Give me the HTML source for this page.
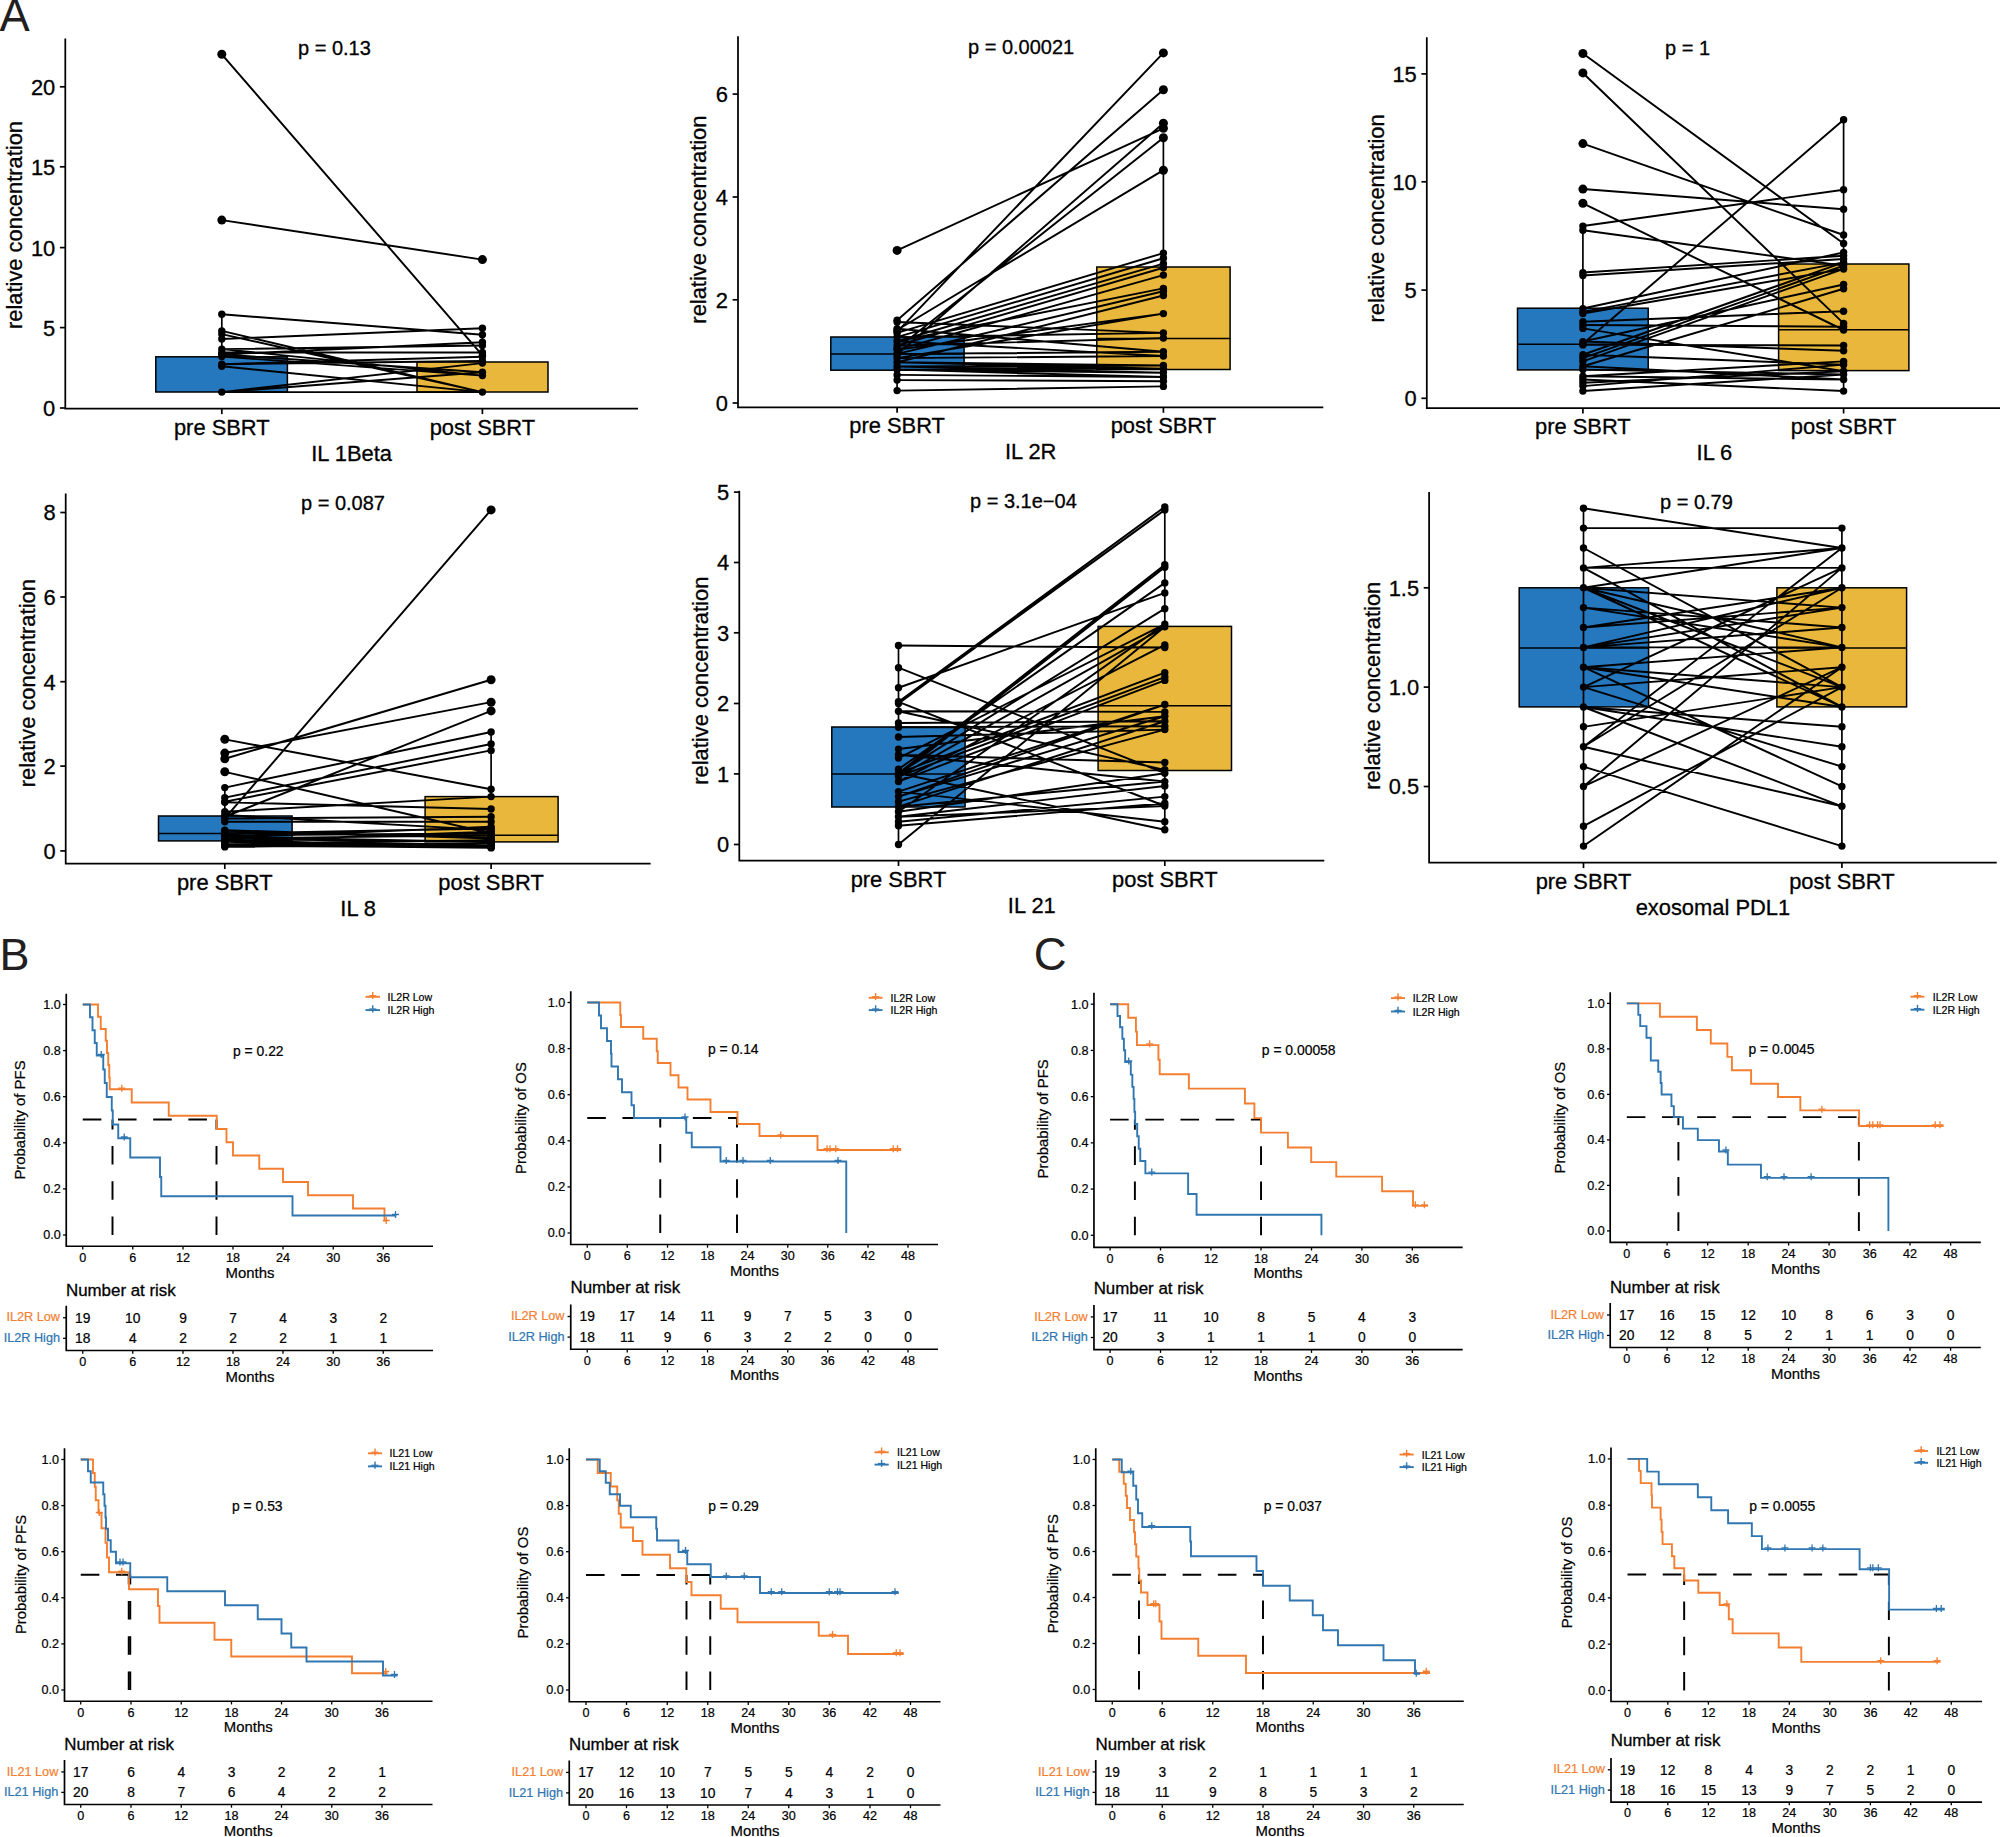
<!DOCTYPE html>
<html><head><meta charset="utf-8"><title>Figure</title>
<style>html,body{margin:0;padding:0;background:#fff}svg{display:block}text{font-family:'Liberation Sans', sans-serif}</style></head><body>
<svg width="2000" height="1837" viewBox="0 0 2000 1837">
<rect width="2000" height="1837" fill="#fff"/>
<rect x="155.8" y="356.8" width="131.6" height="35.2" fill="#2578BE" stroke="#000" stroke-width="1.5"/>
<rect x="417" y="362" width="131" height="30" fill="#E8B73B" stroke="#000" stroke-width="1.5"/>
<line x1="221.8" y1="314.3" x2="221.8" y2="356.8" stroke="#000" stroke-width="1.7"/>
<line x1="482.4" y1="328.3" x2="482.4" y2="362" stroke="#000" stroke-width="1.7"/>
<path d="M221.8 54.3L482.4 355.3M221.8 220.1L482.4 259.6M221.8 314.3L482.4 334.7M221.8 330.9L482.4 392.1M221.8 334.1L482.4 392.1M221.8 339L482.4 328.3M221.8 349.1L482.4 345.5M221.8 352.4L482.4 352.4M221.8 354.5L482.4 342.2M221.8 354.5L482.4 372.3M221.8 356.5L482.4 375.6M221.8 364.2L482.4 361M221.8 366.3L482.4 392.1M221.8 364.2L482.4 356.7M221.8 392.1L482.4 363.1M221.8 392.1L482.4 372.3M221.8 392.1L482.4 392.1M221.8 349.1L482.4 375.6" stroke="#000" stroke-width="1.95" fill="none"/>
<circle cx="221.8" cy="54.3" r="4.5"/>
<circle cx="221.8" cy="220.1" r="4.5"/>
<circle cx="221.8" cy="314.3" r="3.7"/>
<circle cx="221.8" cy="330.9" r="3.7"/>
<circle cx="221.8" cy="334.1" r="3.7"/>
<circle cx="221.8" cy="339" r="3.7"/>
<circle cx="221.8" cy="349.1" r="3.7"/>
<circle cx="221.8" cy="352.4" r="3.7"/>
<circle cx="221.8" cy="354.5" r="3.7"/>
<circle cx="221.8" cy="356.5" r="3.7"/>
<circle cx="221.8" cy="364.2" r="3.7"/>
<circle cx="221.8" cy="366.3" r="3.7"/>
<circle cx="221.8" cy="392.1" r="3.7"/>
<circle cx="482.4" cy="259.6" r="4.5"/>
<circle cx="482.4" cy="328.3" r="3.7"/>
<circle cx="482.4" cy="334.7" r="3.7"/>
<circle cx="482.4" cy="342.2" r="3.7"/>
<circle cx="482.4" cy="345.5" r="3.7"/>
<circle cx="482.4" cy="352.4" r="3.7"/>
<circle cx="482.4" cy="355.3" r="3.7"/>
<circle cx="482.4" cy="356.7" r="3.7"/>
<circle cx="482.4" cy="361" r="3.7"/>
<circle cx="482.4" cy="363.1" r="3.7"/>
<circle cx="482.4" cy="372.3" r="3.7"/>
<circle cx="482.4" cy="375.6" r="3.7"/>
<circle cx="482.4" cy="392.1" r="3.7"/>
<path d="M65.3 38.5V408.7H638" stroke="#000" stroke-width="1.75" fill="none"/>
<line x1="59.9" y1="408" x2="65.3" y2="408" stroke="#000" stroke-width="1.7"/>
<text x="55.3" y="415.9" font-size="21.9" text-anchor="end" fill="#000" stroke="#000" stroke-width="0.3">0</text>
<line x1="59.9" y1="327.6" x2="65.3" y2="327.6" stroke="#000" stroke-width="1.7"/>
<text x="55.3" y="335.5" font-size="21.9" text-anchor="end" fill="#000" stroke="#000" stroke-width="0.3">5</text>
<line x1="59.9" y1="247.6" x2="65.3" y2="247.6" stroke="#000" stroke-width="1.7"/>
<text x="55.3" y="255.5" font-size="21.9" text-anchor="end" fill="#000" stroke="#000" stroke-width="0.3">10</text>
<line x1="59.9" y1="166.8" x2="65.3" y2="166.8" stroke="#000" stroke-width="1.7"/>
<text x="55.3" y="174.7" font-size="21.9" text-anchor="end" fill="#000" stroke="#000" stroke-width="0.3">15</text>
<line x1="59.9" y1="86.8" x2="65.3" y2="86.8" stroke="#000" stroke-width="1.7"/>
<text x="55.3" y="94.7" font-size="21.9" text-anchor="end" fill="#000" stroke="#000" stroke-width="0.3">20</text>
<line x1="221.8" y1="408.7" x2="221.8" y2="414.1" stroke="#000" stroke-width="1.7"/>
<text x="221.8" y="434.7" font-size="21.9" text-anchor="middle" fill="#000" stroke="#000" stroke-width="0.3">pre SBRT</text>
<line x1="482.4" y1="408.7" x2="482.4" y2="414.1" stroke="#000" stroke-width="1.7"/>
<text x="482.4" y="434.7" font-size="21.9" text-anchor="middle" fill="#000" stroke="#000" stroke-width="0.3">post SBRT</text>
<text x="351.65" y="460.7" font-size="21.9" text-anchor="middle" fill="#000" stroke="#000" stroke-width="0.3">IL 1Beta</text>
<text x="21.8" y="225" font-size="21.9" text-anchor="middle" fill="#000" stroke="#000" stroke-width="0.3" transform="rotate(-90 21.8 225)">relative concentration</text>
<text x="298" y="54.5" font-size="20" text-anchor="start" fill="#000" stroke="#000" stroke-width="0.3">p = 0.13</text>
<rect x="830.8" y="337" width="133.3" height="33.2" fill="#2578BE" stroke="#000" stroke-width="1.5"/>
<line x1="830.8" y1="354.1" x2="964.1" y2="354.1" stroke="#000" stroke-width="1.5"/>
<rect x="1096.8" y="267" width="133.3" height="102.5" fill="#E8B73B" stroke="#000" stroke-width="1.5"/>
<line x1="1096.8" y1="338.4" x2="1230.1" y2="338.4" stroke="#000" stroke-width="1.5"/>
<line x1="897.1" y1="320.3" x2="897.1" y2="337" stroke="#000" stroke-width="1.7"/>
<line x1="897.1" y1="370.2" x2="897.1" y2="390.6" stroke="#000" stroke-width="1.7"/>
<line x1="1163.4" y1="137.7" x2="1163.4" y2="267" stroke="#000" stroke-width="1.7"/>
<line x1="1163.4" y1="369.5" x2="1163.4" y2="386.4" stroke="#000" stroke-width="1.7"/>
<path d="M897.1 250.4L1163.4 128.3M897.1 331.8L1163.4 52.9M897.1 320.3L1163.4 89.8M897.1 354.6L1163.4 123.3M897.1 348.6L1163.4 137.7M897.1 330L1163.4 170.2M897.1 332.9L1163.4 253.1M897.1 337.1L1163.4 258.3M897.1 341.3L1163.4 263.6M897.1 345.5L1163.4 267.8M897.1 349.7L1163.4 275.1M897.1 341.3L1163.4 288.4M897.1 353.9L1163.4 291.3M897.1 362.3L1163.4 295.5M897.1 349.7L1163.4 313.6M897.1 358.1L1163.4 313.6M897.1 337.1L1163.4 332.9M897.1 345.5L1163.4 338.1M897.1 328.7L1163.4 351.8M897.1 341.3L1163.4 356M897.1 353.9L1163.4 351.8M897.1 358.1L1163.4 356M897.1 362.3L1163.4 365.4M897.1 366.5L1163.4 368.6M897.1 366.5L1163.4 365.4M897.1 369.6L1163.4 368.6M897.1 369.6L1163.4 372.8M897.1 374.9L1163.4 377M897.1 380.1L1163.4 381.2M897.1 390.6L1163.4 386.4M897.1 366.5L1163.4 372.8M897.1 362.3L1163.4 368.6M897.1 369.6L1163.4 377M897.1 322L1163.4 332.9" stroke="#000" stroke-width="1.95" fill="none"/>
<circle cx="897.1" cy="250.4" r="4.5"/>
<circle cx="897.1" cy="320.3" r="3.7"/>
<circle cx="897.1" cy="322" r="3.7"/>
<circle cx="897.1" cy="328.7" r="3.7"/>
<circle cx="897.1" cy="330" r="3.7"/>
<circle cx="897.1" cy="331.8" r="3.7"/>
<circle cx="897.1" cy="332.9" r="3.7"/>
<circle cx="897.1" cy="337.1" r="3.7"/>
<circle cx="897.1" cy="341.3" r="3.7"/>
<circle cx="897.1" cy="345.5" r="3.7"/>
<circle cx="897.1" cy="348.6" r="3.7"/>
<circle cx="897.1" cy="349.7" r="3.7"/>
<circle cx="897.1" cy="353.9" r="3.7"/>
<circle cx="897.1" cy="354.6" r="3.7"/>
<circle cx="897.1" cy="358.1" r="3.7"/>
<circle cx="897.1" cy="362.3" r="3.7"/>
<circle cx="897.1" cy="366.5" r="3.7"/>
<circle cx="897.1" cy="369.6" r="3.7"/>
<circle cx="897.1" cy="374.9" r="3.7"/>
<circle cx="897.1" cy="380.1" r="3.7"/>
<circle cx="897.1" cy="390.6" r="3.7"/>
<circle cx="1163.4" cy="52.9" r="4.5"/>
<circle cx="1163.4" cy="89.8" r="4.5"/>
<circle cx="1163.4" cy="123.3" r="4.5"/>
<circle cx="1163.4" cy="128.3" r="4.5"/>
<circle cx="1163.4" cy="137.7" r="4.5"/>
<circle cx="1163.4" cy="170.2" r="4.5"/>
<circle cx="1163.4" cy="253.1" r="3.7"/>
<circle cx="1163.4" cy="258.3" r="3.7"/>
<circle cx="1163.4" cy="263.6" r="3.7"/>
<circle cx="1163.4" cy="267.8" r="3.7"/>
<circle cx="1163.4" cy="275.1" r="3.7"/>
<circle cx="1163.4" cy="288.4" r="3.7"/>
<circle cx="1163.4" cy="291.3" r="3.7"/>
<circle cx="1163.4" cy="295.5" r="3.7"/>
<circle cx="1163.4" cy="313.6" r="3.7"/>
<circle cx="1163.4" cy="332.9" r="3.7"/>
<circle cx="1163.4" cy="338.1" r="3.7"/>
<circle cx="1163.4" cy="351.8" r="3.7"/>
<circle cx="1163.4" cy="356" r="3.7"/>
<circle cx="1163.4" cy="365.4" r="3.7"/>
<circle cx="1163.4" cy="368.6" r="3.7"/>
<circle cx="1163.4" cy="372.8" r="3.7"/>
<circle cx="1163.4" cy="377" r="3.7"/>
<circle cx="1163.4" cy="381.2" r="3.7"/>
<circle cx="1163.4" cy="386.4" r="3.7"/>
<path d="M738 36.2V407.4H1323.3" stroke="#000" stroke-width="1.75" fill="none"/>
<line x1="732.6" y1="403" x2="738" y2="403" stroke="#000" stroke-width="1.7"/>
<text x="728" y="410.9" font-size="21.9" text-anchor="end" fill="#000" stroke="#000" stroke-width="0.3">0</text>
<line x1="732.6" y1="299.8" x2="738" y2="299.8" stroke="#000" stroke-width="1.7"/>
<text x="728" y="307.7" font-size="21.9" text-anchor="end" fill="#000" stroke="#000" stroke-width="0.3">2</text>
<line x1="732.6" y1="197" x2="738" y2="197" stroke="#000" stroke-width="1.7"/>
<text x="728" y="204.9" font-size="21.9" text-anchor="end" fill="#000" stroke="#000" stroke-width="0.3">4</text>
<line x1="732.6" y1="94.1" x2="738" y2="94.1" stroke="#000" stroke-width="1.7"/>
<text x="728" y="102" font-size="21.9" text-anchor="end" fill="#000" stroke="#000" stroke-width="0.3">6</text>
<line x1="897.1" y1="407.4" x2="897.1" y2="412.8" stroke="#000" stroke-width="1.7"/>
<text x="897.1" y="433.4" font-size="21.9" text-anchor="middle" fill="#000" stroke="#000" stroke-width="0.3">pre SBRT</text>
<line x1="1163.4" y1="407.4" x2="1163.4" y2="412.8" stroke="#000" stroke-width="1.7"/>
<text x="1163.4" y="433.4" font-size="21.9" text-anchor="middle" fill="#000" stroke="#000" stroke-width="0.3">post SBRT</text>
<text x="1030.65" y="459.4" font-size="21.9" text-anchor="middle" fill="#000" stroke="#000" stroke-width="0.3">IL 2R</text>
<text x="705.8" y="219.6" font-size="21.9" text-anchor="middle" fill="#000" stroke="#000" stroke-width="0.3" transform="rotate(-90 705.8 219.6)">relative concentration</text>
<text x="968" y="53.5" font-size="20" text-anchor="start" fill="#000" stroke="#000" stroke-width="0.3">p = 0.00021</text>
<rect x="1517.5" y="308.2" width="130.7" height="61.7" fill="#2578BE" stroke="#000" stroke-width="1.5"/>
<line x1="1517.5" y1="344.2" x2="1648.2" y2="344.2" stroke="#000" stroke-width="1.5"/>
<rect x="1778.6" y="264" width="130.3" height="106.6" fill="#E8B73B" stroke="#000" stroke-width="1.5"/>
<line x1="1778.6" y1="329.7" x2="1908.9" y2="329.7" stroke="#000" stroke-width="1.5"/>
<line x1="1582.9" y1="226.05" x2="1582.9" y2="308.2" stroke="#000" stroke-width="1.7"/>
<line x1="1582.9" y1="369.9" x2="1582.9" y2="391.05" stroke="#000" stroke-width="1.7"/>
<line x1="1843.6" y1="119.79" x2="1843.6" y2="264" stroke="#000" stroke-width="1.7"/>
<line x1="1843.6" y1="370.6" x2="1843.6" y2="391.05" stroke="#000" stroke-width="1.7"/>
<path d="M1582.9 53.46L1843.6 243.54M1582.9 72.93L1843.6 323.4M1582.9 143.55L1843.6 234.96M1582.9 189.09L1843.6 209.22M1582.9 203.28L1843.6 330M1582.9 226.05L1843.6 189.75M1582.9 230.34L1843.6 265.65M1582.9 272.58L1843.6 255.75M1582.9 275.55L1843.6 259.05M1582.9 308.55L1843.6 252.45M1582.9 311.85L1843.6 262.35M1582.9 313.5L1843.6 268.95M1582.9 321.75L1843.6 311.19M1582.9 325.05L1843.6 326.7M1582.9 328.35L1843.6 371.25M1582.9 341.55L1843.6 284.46M1582.9 344.85L1843.6 345.51M1582.9 343.86L1843.6 119.79M1582.9 358.05L1843.6 265.65M1582.9 361.35L1843.6 268.95M1582.9 354.75L1843.6 364.65M1582.9 366.3L1843.6 288.75M1582.9 369.6L1843.6 374.55M1582.9 376.2L1843.6 361.35M1582.9 379.5L1843.6 391.05M1582.9 382.8L1843.6 371.25M1582.9 386.1L1843.6 364.65M1582.9 391.05L1843.6 374.55M1582.9 366.3L1843.6 379.5M1582.9 341.55L1843.6 350.79M1582.9 376.2L1843.6 379.5M1582.9 354.75L1843.6 262.35" stroke="#000" stroke-width="1.95" fill="none"/>
<circle cx="1582.9" cy="53.5" r="4.5"/>
<circle cx="1582.9" cy="72.9" r="4.5"/>
<circle cx="1582.9" cy="143.6" r="4.5"/>
<circle cx="1582.9" cy="189.1" r="4.5"/>
<circle cx="1582.9" cy="203.3" r="4.5"/>
<circle cx="1582.9" cy="226.1" r="3.7"/>
<circle cx="1582.9" cy="230.3" r="3.7"/>
<circle cx="1582.9" cy="272.6" r="3.7"/>
<circle cx="1582.9" cy="275.6" r="3.7"/>
<circle cx="1582.9" cy="308.6" r="3.7"/>
<circle cx="1582.9" cy="311.9" r="3.7"/>
<circle cx="1582.9" cy="313.5" r="3.7"/>
<circle cx="1582.9" cy="321.8" r="3.7"/>
<circle cx="1582.9" cy="325.1" r="3.7"/>
<circle cx="1582.9" cy="328.4" r="3.7"/>
<circle cx="1582.9" cy="341.6" r="3.7"/>
<circle cx="1582.9" cy="343.9" r="3.7"/>
<circle cx="1582.9" cy="344.9" r="3.7"/>
<circle cx="1582.9" cy="354.8" r="3.7"/>
<circle cx="1582.9" cy="358.1" r="3.7"/>
<circle cx="1582.9" cy="361.4" r="3.7"/>
<circle cx="1582.9" cy="366.3" r="3.7"/>
<circle cx="1582.9" cy="369.6" r="3.7"/>
<circle cx="1582.9" cy="376.2" r="3.7"/>
<circle cx="1582.9" cy="379.5" r="3.7"/>
<circle cx="1582.9" cy="382.8" r="3.7"/>
<circle cx="1582.9" cy="386.1" r="3.7"/>
<circle cx="1582.9" cy="391.1" r="3.7"/>
<circle cx="1843.6" cy="119.8" r="3.7"/>
<circle cx="1843.6" cy="189.8" r="3.7"/>
<circle cx="1843.6" cy="209.2" r="3.7"/>
<circle cx="1843.6" cy="235" r="3.7"/>
<circle cx="1843.6" cy="243.5" r="3.7"/>
<circle cx="1843.6" cy="252.5" r="3.7"/>
<circle cx="1843.6" cy="255.8" r="3.7"/>
<circle cx="1843.6" cy="259.1" r="3.7"/>
<circle cx="1843.6" cy="262.4" r="3.7"/>
<circle cx="1843.6" cy="265.7" r="3.7"/>
<circle cx="1843.6" cy="269" r="3.7"/>
<circle cx="1843.6" cy="284.5" r="3.7"/>
<circle cx="1843.6" cy="288.8" r="3.7"/>
<circle cx="1843.6" cy="311.2" r="3.7"/>
<circle cx="1843.6" cy="323.4" r="3.7"/>
<circle cx="1843.6" cy="326.7" r="3.7"/>
<circle cx="1843.6" cy="330" r="3.7"/>
<circle cx="1843.6" cy="345.5" r="3.7"/>
<circle cx="1843.6" cy="350.8" r="3.7"/>
<circle cx="1843.6" cy="361.4" r="3.7"/>
<circle cx="1843.6" cy="364.7" r="3.7"/>
<circle cx="1843.6" cy="371.3" r="3.7"/>
<circle cx="1843.6" cy="374.6" r="3.7"/>
<circle cx="1843.6" cy="379.5" r="3.7"/>
<circle cx="1843.6" cy="391.1" r="3.7"/>
<path d="M1426.8 37.3V408.1H2002" stroke="#000" stroke-width="1.75" fill="none"/>
<line x1="1421.4" y1="398.3" x2="1426.8" y2="398.3" stroke="#000" stroke-width="1.7"/>
<text x="1416.8" y="406.2" font-size="21.9" text-anchor="end" fill="#000" stroke="#000" stroke-width="0.3">0</text>
<line x1="1421.4" y1="290.1" x2="1426.8" y2="290.1" stroke="#000" stroke-width="1.7"/>
<text x="1416.8" y="298" font-size="21.9" text-anchor="end" fill="#000" stroke="#000" stroke-width="0.3">5</text>
<line x1="1421.4" y1="181.8" x2="1426.8" y2="181.8" stroke="#000" stroke-width="1.7"/>
<text x="1416.8" y="189.7" font-size="21.9" text-anchor="end" fill="#000" stroke="#000" stroke-width="0.3">10</text>
<line x1="1421.4" y1="73.9" x2="1426.8" y2="73.9" stroke="#000" stroke-width="1.7"/>
<text x="1416.8" y="81.8" font-size="21.9" text-anchor="end" fill="#000" stroke="#000" stroke-width="0.3">15</text>
<line x1="1582.9" y1="408.1" x2="1582.9" y2="413.5" stroke="#000" stroke-width="1.7"/>
<text x="1582.9" y="434.1" font-size="21.9" text-anchor="middle" fill="#000" stroke="#000" stroke-width="0.3">pre SBRT</text>
<line x1="1843.6" y1="408.1" x2="1843.6" y2="413.5" stroke="#000" stroke-width="1.7"/>
<text x="1843.6" y="434.1" font-size="21.9" text-anchor="middle" fill="#000" stroke="#000" stroke-width="0.3">post SBRT</text>
<text x="1714.4" y="460.1" font-size="21.9" text-anchor="middle" fill="#000" stroke="#000" stroke-width="0.3">IL 6</text>
<text x="1383.6" y="218.4" font-size="21.9" text-anchor="middle" fill="#000" stroke="#000" stroke-width="0.3" transform="rotate(-90 1383.6 218.4)">relative concentration</text>
<text x="1665" y="54.5" font-size="20" text-anchor="start" fill="#000" stroke="#000" stroke-width="0.3">p = 1</text>
<rect x="158.5" y="816" width="133.6" height="24.9" fill="#2578BE" stroke="#000" stroke-width="1.5"/>
<line x1="158.5" y1="833.5" x2="292.1" y2="833.5" stroke="#000" stroke-width="1.5"/>
<rect x="425.1" y="796.6" width="133" height="45.3" fill="#E8B73B" stroke="#000" stroke-width="1.5"/>
<line x1="425.1" y1="835.2" x2="558.1" y2="835.2" stroke="#000" stroke-width="1.5"/>
<line x1="224.8" y1="787.59" x2="224.8" y2="816" stroke="#000" stroke-width="1.7"/>
<line x1="491.1" y1="731.98" x2="491.1" y2="796.6" stroke="#000" stroke-width="1.7"/>
<path d="M224.8 818.41L491.1 509.87M224.8 739.35L491.1 789.26M224.8 753.08L491.1 702.16M224.8 758.78L491.1 679.72M224.8 771.84L491.1 833.48M224.8 787.59L491.1 731.98M224.8 797.64L491.1 744.04M224.8 801.66L491.1 750.4M224.8 816.73L491.1 710.87M224.8 802.33L491.1 809.03M224.8 811.71L491.1 796.63M224.8 815.06L491.1 830.13M224.8 818.41L491.1 816.73M224.8 821.76L491.1 821.76M224.8 830.13L491.1 838.51M224.8 833.48L491.1 828.46M224.8 836.83L491.1 841.86M224.8 838.51L491.1 835.16M224.8 841.86L491.1 845.21M224.8 843.53L491.1 840.18M224.8 845.21L491.1 847.89M224.8 846.88L491.1 843.53M224.8 840.18L491.1 846.88M224.8 835.16L491.1 833.48M224.8 831.81L491.1 836.83M224.8 837.84L491.1 826.78M224.8 841.19L491.1 831.81M224.8 844.54L491.1 845.88M224.8 845.88L491.1 847.22M224.8 842.53L491.1 844.54M224.8 839.18L491.1 841.19" stroke="#000" stroke-width="1.95" fill="none"/>
<circle cx="224.8" cy="739.3" r="4.5"/>
<circle cx="224.8" cy="753.1" r="4.5"/>
<circle cx="224.8" cy="758.8" r="4.5"/>
<circle cx="224.8" cy="771.8" r="4.5"/>
<circle cx="224.8" cy="787.6" r="3.7"/>
<circle cx="224.8" cy="797.6" r="3.7"/>
<circle cx="224.8" cy="801.7" r="3.7"/>
<circle cx="224.8" cy="802.3" r="3.7"/>
<circle cx="224.8" cy="811.7" r="3.7"/>
<circle cx="224.8" cy="815.1" r="3.7"/>
<circle cx="224.8" cy="816.7" r="3.7"/>
<circle cx="224.8" cy="818.4" r="3.7"/>
<circle cx="224.8" cy="821.8" r="3.7"/>
<circle cx="224.8" cy="830.1" r="3.7"/>
<circle cx="224.8" cy="831.8" r="3.7"/>
<circle cx="224.8" cy="833.5" r="3.7"/>
<circle cx="224.8" cy="835.2" r="3.7"/>
<circle cx="224.8" cy="836.8" r="3.7"/>
<circle cx="224.8" cy="837.8" r="3.7"/>
<circle cx="224.8" cy="838.5" r="3.7"/>
<circle cx="224.8" cy="839.2" r="3.7"/>
<circle cx="224.8" cy="840.2" r="3.7"/>
<circle cx="224.8" cy="841.2" r="3.7"/>
<circle cx="224.8" cy="841.9" r="3.7"/>
<circle cx="224.8" cy="842.5" r="3.7"/>
<circle cx="224.8" cy="843.5" r="3.7"/>
<circle cx="224.8" cy="844.5" r="3.7"/>
<circle cx="224.8" cy="845.2" r="3.7"/>
<circle cx="224.8" cy="845.9" r="3.7"/>
<circle cx="224.8" cy="846.9" r="3.7"/>
<circle cx="491.1" cy="509.9" r="4.5"/>
<circle cx="491.1" cy="679.7" r="4.5"/>
<circle cx="491.1" cy="702.2" r="4.5"/>
<circle cx="491.1" cy="710.9" r="4.5"/>
<circle cx="491.1" cy="732" r="3.7"/>
<circle cx="491.1" cy="744" r="3.7"/>
<circle cx="491.1" cy="750.4" r="3.7"/>
<circle cx="491.1" cy="789.3" r="3.7"/>
<circle cx="491.1" cy="796.6" r="3.7"/>
<circle cx="491.1" cy="809" r="3.7"/>
<circle cx="491.1" cy="816.7" r="3.7"/>
<circle cx="491.1" cy="821.8" r="3.7"/>
<circle cx="491.1" cy="826.8" r="3.7"/>
<circle cx="491.1" cy="828.5" r="3.7"/>
<circle cx="491.1" cy="830.1" r="3.7"/>
<circle cx="491.1" cy="831.8" r="3.7"/>
<circle cx="491.1" cy="833.5" r="3.7"/>
<circle cx="491.1" cy="835.2" r="3.7"/>
<circle cx="491.1" cy="836.8" r="3.7"/>
<circle cx="491.1" cy="838.5" r="3.7"/>
<circle cx="491.1" cy="840.2" r="3.7"/>
<circle cx="491.1" cy="841.2" r="3.7"/>
<circle cx="491.1" cy="841.9" r="3.7"/>
<circle cx="491.1" cy="843.5" r="3.7"/>
<circle cx="491.1" cy="844.5" r="3.7"/>
<circle cx="491.1" cy="845.2" r="3.7"/>
<circle cx="491.1" cy="845.9" r="3.7"/>
<circle cx="491.1" cy="846.9" r="3.7"/>
<circle cx="491.1" cy="847.2" r="3.7"/>
<circle cx="491.1" cy="847.9" r="3.7"/>
<path d="M65.7 493.5V863.6H650.6" stroke="#000" stroke-width="1.75" fill="none"/>
<line x1="60.3" y1="850.9" x2="65.7" y2="850.9" stroke="#000" stroke-width="1.7"/>
<text x="55.7" y="858.8" font-size="21.9" text-anchor="end" fill="#000" stroke="#000" stroke-width="0.3">0</text>
<line x1="60.3" y1="766.1" x2="65.7" y2="766.1" stroke="#000" stroke-width="1.7"/>
<text x="55.7" y="774" font-size="21.9" text-anchor="end" fill="#000" stroke="#000" stroke-width="0.3">2</text>
<line x1="60.3" y1="681.7" x2="65.7" y2="681.7" stroke="#000" stroke-width="1.7"/>
<text x="55.7" y="689.6" font-size="21.9" text-anchor="end" fill="#000" stroke="#000" stroke-width="0.3">4</text>
<line x1="60.3" y1="597" x2="65.7" y2="597" stroke="#000" stroke-width="1.7"/>
<text x="55.7" y="604.9" font-size="21.9" text-anchor="end" fill="#000" stroke="#000" stroke-width="0.3">6</text>
<line x1="60.3" y1="512.5" x2="65.7" y2="512.5" stroke="#000" stroke-width="1.7"/>
<text x="55.7" y="520.4" font-size="21.9" text-anchor="end" fill="#000" stroke="#000" stroke-width="0.3">8</text>
<line x1="224.8" y1="863.6" x2="224.8" y2="869" stroke="#000" stroke-width="1.7"/>
<text x="224.8" y="889.6" font-size="21.9" text-anchor="middle" fill="#000" stroke="#000" stroke-width="0.3">pre SBRT</text>
<line x1="491.1" y1="863.6" x2="491.1" y2="869" stroke="#000" stroke-width="1.7"/>
<text x="491.1" y="889.6" font-size="21.9" text-anchor="middle" fill="#000" stroke="#000" stroke-width="0.3">post SBRT</text>
<text x="358.15" y="915.6" font-size="21.9" text-anchor="middle" fill="#000" stroke="#000" stroke-width="0.3">IL 8</text>
<text x="34.9" y="683.2" font-size="21.9" text-anchor="middle" fill="#000" stroke="#000" stroke-width="0.3" transform="rotate(-90 34.9 683.2)">relative concentration</text>
<text x="301" y="510" font-size="20" text-anchor="start" fill="#000" stroke="#000" stroke-width="0.3">p = 0.087</text>
<rect x="831.8" y="727" width="133.3" height="80" fill="#2578BE" stroke="#000" stroke-width="1.5"/>
<line x1="831.8" y1="773.9" x2="965.1" y2="773.9" stroke="#000" stroke-width="1.5"/>
<rect x="1098.1" y="626.4" width="133.4" height="144.1" fill="#E8B73B" stroke="#000" stroke-width="1.5"/>
<line x1="1098.1" y1="705.8" x2="1231.5" y2="705.8" stroke="#000" stroke-width="1.5"/>
<line x1="898.5" y1="645.54" x2="898.5" y2="727" stroke="#000" stroke-width="1.7"/>
<line x1="898.5" y1="807" x2="898.5" y2="844.54" stroke="#000" stroke-width="1.7"/>
<line x1="1164.8" y1="506.85" x2="1164.8" y2="626.4" stroke="#000" stroke-width="1.7"/>
<line x1="1164.8" y1="770.5" x2="1164.8" y2="829.8" stroke="#000" stroke-width="1.7"/>
<path d="M898.5 645.54L1164.8 647.55M898.5 667.65L1164.8 773.18M898.5 687.76L1164.8 592.95M898.5 701.83L1164.8 506.85M898.5 703.5L1164.8 509.87M898.5 711.21L1164.8 711.88M898.5 722.93L1164.8 721.26M898.5 727.29L1164.8 726.28M898.5 701.83L1164.8 806.01M898.5 711.21L1164.8 769.83M898.5 737L1164.8 729.63M898.5 749.06L1164.8 716.23M898.5 754.76L1164.8 762.46M898.5 758.11L1164.8 624.1M898.5 769.16L1164.8 582.9M898.5 773.18L1164.8 608.69M898.5 776.53L1164.8 626.78M898.5 781.56L1164.8 644.87M898.5 773.18L1164.8 672.68M898.5 776.53L1164.8 677.04M898.5 781.56L1164.8 680.39M898.5 791.61L1164.8 704.51M898.5 796.63L1164.8 716.23M898.5 801.66L1164.8 729.63M898.5 791.61L1164.8 821.76M898.5 773.18L1164.8 829.8M898.5 806.68L1164.8 781.56M898.5 811.71L1164.8 624.1M898.5 816.73L1164.8 785.91M898.5 821.76L1164.8 796.63M898.5 825.78L1164.8 803.33M898.5 844.54L1164.8 626.78M898.5 773.18L1164.8 564.81M898.5 775.19L1164.8 567.15M898.5 806.68L1164.8 721.26M898.5 816.73L1164.8 806.01M898.5 754.76L1164.8 781.56M898.5 796.63L1164.8 704.51M898.5 811.71L1164.8 773.18" stroke="#000" stroke-width="1.95" fill="none"/>
<circle cx="898.5" cy="645.5" r="3.7"/>
<circle cx="898.5" cy="667.7" r="3.7"/>
<circle cx="898.5" cy="687.8" r="3.7"/>
<circle cx="898.5" cy="701.8" r="3.7"/>
<circle cx="898.5" cy="703.5" r="3.7"/>
<circle cx="898.5" cy="711.2" r="3.7"/>
<circle cx="898.5" cy="722.9" r="3.7"/>
<circle cx="898.5" cy="727.3" r="3.7"/>
<circle cx="898.5" cy="737" r="3.7"/>
<circle cx="898.5" cy="749.1" r="3.7"/>
<circle cx="898.5" cy="754.8" r="3.7"/>
<circle cx="898.5" cy="758.1" r="3.7"/>
<circle cx="898.5" cy="769.2" r="3.7"/>
<circle cx="898.5" cy="773.2" r="3.7"/>
<circle cx="898.5" cy="775.2" r="3.7"/>
<circle cx="898.5" cy="776.5" r="3.7"/>
<circle cx="898.5" cy="781.6" r="3.7"/>
<circle cx="898.5" cy="791.6" r="3.7"/>
<circle cx="898.5" cy="796.6" r="3.7"/>
<circle cx="898.5" cy="801.7" r="3.7"/>
<circle cx="898.5" cy="806.7" r="3.7"/>
<circle cx="898.5" cy="811.7" r="3.7"/>
<circle cx="898.5" cy="816.7" r="3.7"/>
<circle cx="898.5" cy="821.8" r="3.7"/>
<circle cx="898.5" cy="825.8" r="3.7"/>
<circle cx="898.5" cy="844.5" r="3.7"/>
<circle cx="1164.8" cy="506.9" r="3.7"/>
<circle cx="1164.8" cy="509.9" r="3.7"/>
<circle cx="1164.8" cy="564.8" r="3.7"/>
<circle cx="1164.8" cy="567.2" r="3.7"/>
<circle cx="1164.8" cy="582.9" r="3.7"/>
<circle cx="1164.8" cy="592.9" r="3.7"/>
<circle cx="1164.8" cy="608.7" r="3.7"/>
<circle cx="1164.8" cy="624.1" r="3.7"/>
<circle cx="1164.8" cy="626.8" r="3.7"/>
<circle cx="1164.8" cy="644.9" r="3.7"/>
<circle cx="1164.8" cy="647.6" r="3.7"/>
<circle cx="1164.8" cy="672.7" r="3.7"/>
<circle cx="1164.8" cy="677" r="3.7"/>
<circle cx="1164.8" cy="680.4" r="3.7"/>
<circle cx="1164.8" cy="704.5" r="3.7"/>
<circle cx="1164.8" cy="711.9" r="3.7"/>
<circle cx="1164.8" cy="716.2" r="3.7"/>
<circle cx="1164.8" cy="721.3" r="3.7"/>
<circle cx="1164.8" cy="726.3" r="3.7"/>
<circle cx="1164.8" cy="729.6" r="3.7"/>
<circle cx="1164.8" cy="762.5" r="3.7"/>
<circle cx="1164.8" cy="769.8" r="3.7"/>
<circle cx="1164.8" cy="773.2" r="3.7"/>
<circle cx="1164.8" cy="781.6" r="3.7"/>
<circle cx="1164.8" cy="785.9" r="3.7"/>
<circle cx="1164.8" cy="796.6" r="3.7"/>
<circle cx="1164.8" cy="803.3" r="3.7"/>
<circle cx="1164.8" cy="806" r="3.7"/>
<circle cx="1164.8" cy="821.8" r="3.7"/>
<circle cx="1164.8" cy="829.8" r="3.7"/>
<path d="M739.3 490.8V860.6H1324.3" stroke="#000" stroke-width="1.75" fill="none"/>
<line x1="733.9" y1="844.5" x2="739.3" y2="844.5" stroke="#000" stroke-width="1.7"/>
<text x="729.3" y="852.4" font-size="21.9" text-anchor="end" fill="#000" stroke="#000" stroke-width="0.3">0</text>
<line x1="733.9" y1="773.9" x2="739.3" y2="773.9" stroke="#000" stroke-width="1.7"/>
<text x="729.3" y="781.8" font-size="21.9" text-anchor="end" fill="#000" stroke="#000" stroke-width="0.3">1</text>
<line x1="733.9" y1="703.5" x2="739.3" y2="703.5" stroke="#000" stroke-width="1.7"/>
<text x="729.3" y="711.4" font-size="21.9" text-anchor="end" fill="#000" stroke="#000" stroke-width="0.3">2</text>
<line x1="733.9" y1="632.8" x2="739.3" y2="632.8" stroke="#000" stroke-width="1.7"/>
<text x="729.3" y="640.7" font-size="21.9" text-anchor="end" fill="#000" stroke="#000" stroke-width="0.3">3</text>
<line x1="733.9" y1="562.5" x2="739.3" y2="562.5" stroke="#000" stroke-width="1.7"/>
<text x="729.3" y="570.4" font-size="21.9" text-anchor="end" fill="#000" stroke="#000" stroke-width="0.3">4</text>
<line x1="733.9" y1="492.1" x2="739.3" y2="492.1" stroke="#000" stroke-width="1.7"/>
<text x="729.3" y="500" font-size="21.9" text-anchor="end" fill="#000" stroke="#000" stroke-width="0.3">5</text>
<line x1="898.5" y1="860.6" x2="898.5" y2="866" stroke="#000" stroke-width="1.7"/>
<text x="898.5" y="886.6" font-size="21.9" text-anchor="middle" fill="#000" stroke="#000" stroke-width="0.3">pre SBRT</text>
<line x1="1164.8" y1="860.6" x2="1164.8" y2="866" stroke="#000" stroke-width="1.7"/>
<text x="1164.8" y="886.6" font-size="21.9" text-anchor="middle" fill="#000" stroke="#000" stroke-width="0.3">post SBRT</text>
<text x="1031.8" y="912.6" font-size="21.9" text-anchor="middle" fill="#000" stroke="#000" stroke-width="0.3">IL 21</text>
<text x="707.6" y="680.7" font-size="21.9" text-anchor="middle" fill="#000" stroke="#000" stroke-width="0.3" transform="rotate(-90 707.6 680.7)">relative concentration</text>
<text x="970" y="508" font-size="20" text-anchor="start" fill="#000" stroke="#000" stroke-width="0.3">p = 3.1e−04</text>
<rect x="1519.2" y="587.8" width="129.4" height="119.1" fill="#2578BE" stroke="#000" stroke-width="1.5"/>
<line x1="1519.2" y1="647.9" x2="1648.6" y2="647.9" stroke="#000" stroke-width="1.5"/>
<rect x="1776.9" y="587.8" width="129.7" height="119.1" fill="#E8B73B" stroke="#000" stroke-width="1.5"/>
<line x1="1776.9" y1="647.9" x2="1906.6" y2="647.9" stroke="#000" stroke-width="1.5"/>
<line x1="1583.5" y1="508.27" x2="1583.5" y2="846.06" stroke="#000" stroke-width="1.7"/>
<line x1="1841.9" y1="528.14" x2="1841.9" y2="846.06" stroke="#000" stroke-width="1.7"/>
<path d="M1583.5 508.27L1841.9 548.01M1583.5 528.14L1841.9 528.14M1583.5 548.01L1841.9 687.1M1583.5 567.88L1841.9 567.88M1583.5 567.88L1841.9 548.01M1583.5 567.88L1841.9 706.97M1583.5 587.75L1841.9 548.01M1583.5 587.75L1841.9 607.62M1583.5 587.75L1841.9 647.36M1583.5 587.75L1841.9 706.97M1583.5 587.75L1841.9 687.1M1583.5 607.62L1841.9 647.36M1583.5 607.62L1841.9 627.49M1583.5 627.49L1841.9 587.75M1583.5 627.49L1841.9 607.62M1583.5 647.36L1841.9 607.62M1583.5 647.36L1841.9 647.36M1583.5 647.36L1841.9 587.75M1583.5 647.36L1841.9 627.49M1583.5 667.23L1841.9 687.1M1583.5 667.23L1841.9 706.97M1583.5 667.23L1841.9 786.45M1583.5 667.23L1841.9 647.36M1583.5 687.1L1841.9 567.88M1583.5 687.1L1841.9 667.23M1583.5 687.1L1841.9 766.58M1583.5 706.97L1841.9 726.84M1583.5 706.97L1841.9 806.32M1583.5 706.97L1841.9 746.71M1583.5 726.84L1841.9 687.1M1583.5 746.71L1841.9 548.01M1583.5 746.71L1841.9 806.32M1583.5 746.71L1841.9 587.75M1583.5 766.58L1841.9 846.06M1583.5 786.45L1841.9 567.88M1583.5 786.45L1841.9 667.23M1583.5 826.19L1841.9 687.1M1583.5 846.06L1841.9 667.23" stroke="#000" stroke-width="1.95" fill="none"/>
<circle cx="1583.5" cy="508.3" r="3.7"/>
<circle cx="1583.5" cy="528.1" r="3.7"/>
<circle cx="1583.5" cy="548" r="3.7"/>
<circle cx="1583.5" cy="567.9" r="3.7"/>
<circle cx="1583.5" cy="587.8" r="3.7"/>
<circle cx="1583.5" cy="607.6" r="3.7"/>
<circle cx="1583.5" cy="627.5" r="3.7"/>
<circle cx="1583.5" cy="647.4" r="3.7"/>
<circle cx="1583.5" cy="667.2" r="3.7"/>
<circle cx="1583.5" cy="687.1" r="3.7"/>
<circle cx="1583.5" cy="707" r="3.7"/>
<circle cx="1583.5" cy="726.8" r="3.7"/>
<circle cx="1583.5" cy="746.7" r="3.7"/>
<circle cx="1583.5" cy="766.6" r="3.7"/>
<circle cx="1583.5" cy="786.5" r="3.7"/>
<circle cx="1583.5" cy="826.2" r="3.7"/>
<circle cx="1583.5" cy="846.1" r="3.7"/>
<circle cx="1841.9" cy="528.1" r="3.7"/>
<circle cx="1841.9" cy="548" r="3.7"/>
<circle cx="1841.9" cy="567.9" r="3.7"/>
<circle cx="1841.9" cy="587.8" r="3.7"/>
<circle cx="1841.9" cy="607.6" r="3.7"/>
<circle cx="1841.9" cy="627.5" r="3.7"/>
<circle cx="1841.9" cy="647.4" r="3.7"/>
<circle cx="1841.9" cy="667.2" r="3.7"/>
<circle cx="1841.9" cy="687.1" r="3.7"/>
<circle cx="1841.9" cy="707" r="3.7"/>
<circle cx="1841.9" cy="726.8" r="3.7"/>
<circle cx="1841.9" cy="746.7" r="3.7"/>
<circle cx="1841.9" cy="766.6" r="3.7"/>
<circle cx="1841.9" cy="786.5" r="3.7"/>
<circle cx="1841.9" cy="806.3" r="3.7"/>
<circle cx="1841.9" cy="846.1" r="3.7"/>
<path d="M1429.1 492.1V862.7H1996.7" stroke="#000" stroke-width="1.75" fill="none"/>
<line x1="1423.7" y1="786.5" x2="1429.1" y2="786.5" stroke="#000" stroke-width="1.7"/>
<text x="1419.1" y="794.4" font-size="21.9" text-anchor="end" fill="#000" stroke="#000" stroke-width="0.3">0.5</text>
<line x1="1423.7" y1="687.1" x2="1429.1" y2="687.1" stroke="#000" stroke-width="1.7"/>
<text x="1419.1" y="695" font-size="21.9" text-anchor="end" fill="#000" stroke="#000" stroke-width="0.3">1.0</text>
<line x1="1423.7" y1="587.8" x2="1429.1" y2="587.8" stroke="#000" stroke-width="1.7"/>
<text x="1419.1" y="595.7" font-size="21.9" text-anchor="end" fill="#000" stroke="#000" stroke-width="0.3">1.5</text>
<line x1="1583.5" y1="862.7" x2="1583.5" y2="868.1" stroke="#000" stroke-width="1.7"/>
<text x="1583.5" y="888.7" font-size="21.9" text-anchor="middle" fill="#000" stroke="#000" stroke-width="0.3">pre SBRT</text>
<line x1="1841.9" y1="862.7" x2="1841.9" y2="868.1" stroke="#000" stroke-width="1.7"/>
<text x="1841.9" y="888.7" font-size="21.9" text-anchor="middle" fill="#000" stroke="#000" stroke-width="0.3">post SBRT</text>
<text x="1712.9" y="914.7" font-size="21.9" text-anchor="middle" fill="#000" stroke="#000" stroke-width="0.3">exosomal PDL1</text>
<text x="1380" y="685.8" font-size="21.9" text-anchor="middle" fill="#000" stroke="#000" stroke-width="0.3" transform="rotate(-90 1380 685.8)">relative concentration</text>
<text x="1660" y="508.5" font-size="20" text-anchor="start" fill="#000" stroke="#000" stroke-width="0.3">p = 0.79</text>
<g stroke="#000" stroke-width="1.95" stroke-dasharray="18.6 16.6" fill="none">
<path d="M82.75 1119.5H216.75"/>
<path d="M112.5 1235V1119.5"/>
<path d="M216.5 1235V1119.5"/>
</g>
<path d="M82.75 1004.5L98 1004.5L98 1016.75L100.75 1016.75L100.75 1029L105.75 1029L105.75 1040.75L107 1040.75L107 1053L108.25 1053L108.25 1065L109.25 1065L109.25 1077.5L109.75 1077.5L109.75 1089.25L131.75 1089.25L131.75 1102.5L168.75 1102.5L168.75 1115.75L216.75 1115.75L216.75 1129L226.5 1129L226.5 1142.25L233 1142.25L233 1155.5L259.25 1155.5L259.25 1168.75L283 1168.75L283 1182L308 1182L308 1195.25L353 1195.25L353 1208.5L384.5 1208.5L384.5 1220.5L387 1220.5" stroke="#F47F31" stroke-width="1.9" fill="none" stroke-linejoin="miter"/>
<path d="M118.25 1088.25H125.25M121.75 1084.75V1091.75M382.75 1220.5H389.75M386.25 1217V1224" stroke="#F47F31" stroke-width="1.3" fill="none"/>
<path d="M82.75 1004.5L90 1004.5L90 1017.25L92.5 1017.25L92.5 1030.25L94.75 1030.25L94.75 1043L96.75 1043L96.75 1055.5L103.25 1055.5L103.25 1069.5L104.75 1069.5L104.75 1083L106.75 1083L106.75 1097L111.75 1097L111.75 1110.5L112.75 1110.5L112.75 1124.5L118.25 1124.5L118.25 1138.25L130.25 1138.25L130.25 1157.5L160 1157.5L160 1177L161.25 1177L161.25 1196.25L292.5 1196.25L292.5 1215.5L396.25 1215.5" stroke="#3076B1" stroke-width="1.9" fill="none" stroke-linejoin="miter"/>
<path d="M97.75 1054.5H104.75M101.25 1051V1058M120.75 1137H127.75M124.25 1133.5V1140.5M392 1214.5H399M395.5 1211V1218" stroke="#3076B1" stroke-width="1.3" fill="none"/>
<path d="M66.25 993.75V1246.25H433" stroke="#000" stroke-width="1.7" fill="none"/>
<line x1="63.05" y1="1004.5" x2="66.25" y2="1004.5" stroke="#000" stroke-width="1.3"/>
<text x="60.75" y="1008.9" font-size="12.6" text-anchor="end" fill="#000" stroke="#000" stroke-width="0.22">1.0</text>
<line x1="63.05" y1="1050.6" x2="66.25" y2="1050.6" stroke="#000" stroke-width="1.3"/>
<text x="60.75" y="1055" font-size="12.6" text-anchor="end" fill="#000" stroke="#000" stroke-width="0.22">0.8</text>
<line x1="63.05" y1="1096.7" x2="66.25" y2="1096.7" stroke="#000" stroke-width="1.3"/>
<text x="60.75" y="1101.1" font-size="12.6" text-anchor="end" fill="#000" stroke="#000" stroke-width="0.22">0.6</text>
<line x1="63.05" y1="1142.8" x2="66.25" y2="1142.8" stroke="#000" stroke-width="1.3"/>
<text x="60.75" y="1147.2" font-size="12.6" text-anchor="end" fill="#000" stroke="#000" stroke-width="0.22">0.4</text>
<line x1="63.05" y1="1188.9" x2="66.25" y2="1188.9" stroke="#000" stroke-width="1.3"/>
<text x="60.75" y="1193.3" font-size="12.6" text-anchor="end" fill="#000" stroke="#000" stroke-width="0.22">0.2</text>
<line x1="63.05" y1="1235" x2="66.25" y2="1235" stroke="#000" stroke-width="1.3"/>
<text x="60.75" y="1239.4" font-size="12.6" text-anchor="end" fill="#000" stroke="#000" stroke-width="0.22">0.0</text>
<line x1="82.75" y1="1246.25" x2="82.75" y2="1249.45" stroke="#000" stroke-width="1.3"/>
<text x="82.75" y="1261.85" font-size="12.6" text-anchor="middle" fill="#000" stroke="#000" stroke-width="0.22">0</text>
<line x1="132.75" y1="1246.25" x2="132.75" y2="1249.45" stroke="#000" stroke-width="1.3"/>
<text x="132.75" y="1261.85" font-size="12.6" text-anchor="middle" fill="#000" stroke="#000" stroke-width="0.22">6</text>
<line x1="183" y1="1246.25" x2="183" y2="1249.45" stroke="#000" stroke-width="1.3"/>
<text x="183" y="1261.85" font-size="12.6" text-anchor="middle" fill="#000" stroke="#000" stroke-width="0.22">12</text>
<line x1="233" y1="1246.25" x2="233" y2="1249.45" stroke="#000" stroke-width="1.3"/>
<text x="233" y="1261.85" font-size="12.6" text-anchor="middle" fill="#000" stroke="#000" stroke-width="0.22">18</text>
<line x1="283" y1="1246.25" x2="283" y2="1249.45" stroke="#000" stroke-width="1.3"/>
<text x="283" y="1261.85" font-size="12.6" text-anchor="middle" fill="#000" stroke="#000" stroke-width="0.22">24</text>
<line x1="333.25" y1="1246.25" x2="333.25" y2="1249.45" stroke="#000" stroke-width="1.3"/>
<text x="333.25" y="1261.85" font-size="12.6" text-anchor="middle" fill="#000" stroke="#000" stroke-width="0.22">30</text>
<line x1="383.25" y1="1246.25" x2="383.25" y2="1249.45" stroke="#000" stroke-width="1.3"/>
<text x="383.25" y="1261.85" font-size="12.6" text-anchor="middle" fill="#000" stroke="#000" stroke-width="0.22">36</text>
<text x="250" y="1277.85" font-size="14.9" text-anchor="middle" fill="#000" stroke="#000" stroke-width="0.22">Months</text>
<text x="25" y="1120" font-size="14.9" text-anchor="middle" fill="#000" stroke="#000" stroke-width="0.22" transform="rotate(-90 25 1120)">Probability of PFS</text>
<text x="233" y="1055.5" font-size="13.9" text-anchor="start" fill="#000" stroke="#000" stroke-width="0.22">p = 0.22</text>
<line x1="365.5" y1="996.8" x2="380" y2="996.8" stroke="#F47F31" stroke-width="1.9"/>
<line x1="372.75" y1="992" x2="372.75" y2="999.1" stroke="#F47F31" stroke-width="1.4"/>
<line x1="369.15" y1="995.7" x2="376.35" y2="995.7" stroke="#F47F31" stroke-width="1.2"/>
<text x="387.5" y="1000.8" font-size="10.55" text-anchor="start" fill="#000" stroke="#000" stroke-width="0.22">IL2R Low</text>
<line x1="365.5" y1="1010.1" x2="380" y2="1010.1" stroke="#3076B1" stroke-width="1.9"/>
<line x1="372.75" y1="1005.3" x2="372.75" y2="1012.4" stroke="#3076B1" stroke-width="1.4"/>
<line x1="369.15" y1="1009" x2="376.35" y2="1009" stroke="#3076B1" stroke-width="1.2"/>
<text x="387.5" y="1014.1" font-size="10.55" text-anchor="start" fill="#000" stroke="#000" stroke-width="0.22">IL2R High</text>
<text x="65.95" y="1295.5" font-size="16.9" text-anchor="start" fill="#000" stroke="#000" stroke-width="0.3">Number at risk</text>
<path d="M66.25 1305.75V1350.5H433" stroke="#000" stroke-width="1.7" fill="none"/>
<line x1="63.05" y1="1317.74" x2="66.25" y2="1317.74" stroke="#000" stroke-width="1.3"/>
<text x="60.05" y="1321.34" font-size="12.7" text-anchor="end" fill="#F47F31" stroke="#F47F31" stroke-width="0.22">IL2R Low</text>
<text x="82.75" y="1322.54" font-size="13.8" text-anchor="middle" fill="#000" stroke="#000" stroke-width="0.22">19</text>
<text x="132.75" y="1322.54" font-size="13.8" text-anchor="middle" fill="#000" stroke="#000" stroke-width="0.22">10</text>
<text x="183" y="1322.54" font-size="13.8" text-anchor="middle" fill="#000" stroke="#000" stroke-width="0.22">9</text>
<text x="233" y="1322.54" font-size="13.8" text-anchor="middle" fill="#000" stroke="#000" stroke-width="0.22">7</text>
<text x="283" y="1322.54" font-size="13.8" text-anchor="middle" fill="#000" stroke="#000" stroke-width="0.22">4</text>
<text x="333.25" y="1322.54" font-size="13.8" text-anchor="middle" fill="#000" stroke="#000" stroke-width="0.22">3</text>
<text x="383.25" y="1322.54" font-size="13.8" text-anchor="middle" fill="#000" stroke="#000" stroke-width="0.22">2</text>
<line x1="63.05" y1="1338.33" x2="66.25" y2="1338.33" stroke="#000" stroke-width="1.3"/>
<text x="60.05" y="1341.93" font-size="12.7" text-anchor="end" fill="#3076B1" stroke="#3076B1" stroke-width="0.22">IL2R High</text>
<text x="82.75" y="1343.13" font-size="13.8" text-anchor="middle" fill="#000" stroke="#000" stroke-width="0.22">18</text>
<text x="132.75" y="1343.13" font-size="13.8" text-anchor="middle" fill="#000" stroke="#000" stroke-width="0.22">4</text>
<text x="183" y="1343.13" font-size="13.8" text-anchor="middle" fill="#000" stroke="#000" stroke-width="0.22">2</text>
<text x="233" y="1343.13" font-size="13.8" text-anchor="middle" fill="#000" stroke="#000" stroke-width="0.22">2</text>
<text x="283" y="1343.13" font-size="13.8" text-anchor="middle" fill="#000" stroke="#000" stroke-width="0.22">2</text>
<text x="333.25" y="1343.13" font-size="13.8" text-anchor="middle" fill="#000" stroke="#000" stroke-width="0.22">1</text>
<text x="383.25" y="1343.13" font-size="13.8" text-anchor="middle" fill="#000" stroke="#000" stroke-width="0.22">1</text>
<line x1="82.75" y1="1350.5" x2="82.75" y2="1353.7" stroke="#000" stroke-width="1.3"/>
<text x="82.75" y="1365.8" font-size="12.6" text-anchor="middle" fill="#000" stroke="#000" stroke-width="0.22">0</text>
<line x1="132.75" y1="1350.5" x2="132.75" y2="1353.7" stroke="#000" stroke-width="1.3"/>
<text x="132.75" y="1365.8" font-size="12.6" text-anchor="middle" fill="#000" stroke="#000" stroke-width="0.22">6</text>
<line x1="183" y1="1350.5" x2="183" y2="1353.7" stroke="#000" stroke-width="1.3"/>
<text x="183" y="1365.8" font-size="12.6" text-anchor="middle" fill="#000" stroke="#000" stroke-width="0.22">12</text>
<line x1="233" y1="1350.5" x2="233" y2="1353.7" stroke="#000" stroke-width="1.3"/>
<text x="233" y="1365.8" font-size="12.6" text-anchor="middle" fill="#000" stroke="#000" stroke-width="0.22">18</text>
<line x1="283" y1="1350.5" x2="283" y2="1353.7" stroke="#000" stroke-width="1.3"/>
<text x="283" y="1365.8" font-size="12.6" text-anchor="middle" fill="#000" stroke="#000" stroke-width="0.22">24</text>
<line x1="333.25" y1="1350.5" x2="333.25" y2="1353.7" stroke="#000" stroke-width="1.3"/>
<text x="333.25" y="1365.8" font-size="12.6" text-anchor="middle" fill="#000" stroke="#000" stroke-width="0.22">30</text>
<line x1="383.25" y1="1350.5" x2="383.25" y2="1353.7" stroke="#000" stroke-width="1.3"/>
<text x="383.25" y="1365.8" font-size="12.6" text-anchor="middle" fill="#000" stroke="#000" stroke-width="0.22">36</text>
<text x="250" y="1381.7" font-size="14.9" text-anchor="middle" fill="#000" stroke="#000" stroke-width="0.22">Months</text>
<g stroke="#000" stroke-width="1.95" stroke-dasharray="18.6 16.6" fill="none">
<path d="M587.25 1118H737.5"/>
<path d="M660.25 1233V1118"/>
<path d="M737 1233V1118"/>
</g>
<path d="M587.25 1002.5L620.25 1002.5L620.25 1015L621 1015L621 1027L643.25 1027L643.25 1038.75L656.75 1038.75L656.75 1051.25L657.75 1051.25L657.75 1063L670.5 1063L670.5 1075.25L678.5 1075.25L678.5 1087.5L687.5 1087.5L687.5 1099.5L710.5 1099.5L710.5 1112L737.5 1112L737.5 1124L759.5 1124L759.5 1136L817.5 1136L817.5 1150L901.25 1150" stroke="#F47F31" stroke-width="1.9" fill="none" stroke-linejoin="miter"/>
<path d="M777.25 1135H784.25M780.75 1131.5V1138.5M823.5 1148.75H830.5M827 1145.25V1152.25M826.5 1148.75H833.5M830 1145.25V1152.25M832.25 1148.75H839.25M835.75 1145.25V1152.25M889.75 1148.75H896.75M893.25 1145.25V1152.25M894 1148.75H901M897.5 1145.25V1152.25" stroke="#F47F31" stroke-width="1.3" fill="none"/>
<path d="M587.25 1002.5L599 1002.5L599 1015.5L601 1015.5L601 1028.25L607 1028.25L607 1041L611 1041L611 1053.75L611.5 1053.75L611.5 1066.5L618 1066.5L618 1079.25L622 1079.25L622 1092.25L631.5 1092.25L631.5 1105.25L634 1105.25L634 1118L686.25 1118L686.25 1132.75L691.75 1132.75L691.75 1147.25L720.5 1147.25L720.5 1161.5L846.25 1161.5L846.25 1233" stroke="#3076B1" stroke-width="1.9" fill="none" stroke-linejoin="miter"/>
<path d="M681.5 1117H688.5M685 1113.5V1120.5M722.75 1160.5H729.75M726.25 1157V1164M739.5 1160.5H746.5M743 1157V1164M766.75 1160.5H773.75M770.25 1157V1164M834.5 1160.5H841.5M838 1157V1164" stroke="#3076B1" stroke-width="1.3" fill="none"/>
<path d="M570.75 991.25V1244.5H938" stroke="#000" stroke-width="1.7" fill="none"/>
<line x1="567.55" y1="1002.5" x2="570.75" y2="1002.5" stroke="#000" stroke-width="1.3"/>
<text x="565.25" y="1006.9" font-size="12.6" text-anchor="end" fill="#000" stroke="#000" stroke-width="0.22">1.0</text>
<line x1="567.55" y1="1048.6" x2="570.75" y2="1048.6" stroke="#000" stroke-width="1.3"/>
<text x="565.25" y="1053" font-size="12.6" text-anchor="end" fill="#000" stroke="#000" stroke-width="0.22">0.8</text>
<line x1="567.55" y1="1094.7" x2="570.75" y2="1094.7" stroke="#000" stroke-width="1.3"/>
<text x="565.25" y="1099.1" font-size="12.6" text-anchor="end" fill="#000" stroke="#000" stroke-width="0.22">0.6</text>
<line x1="567.55" y1="1140.8" x2="570.75" y2="1140.8" stroke="#000" stroke-width="1.3"/>
<text x="565.25" y="1145.2" font-size="12.6" text-anchor="end" fill="#000" stroke="#000" stroke-width="0.22">0.4</text>
<line x1="567.55" y1="1186.9" x2="570.75" y2="1186.9" stroke="#000" stroke-width="1.3"/>
<text x="565.25" y="1191.3" font-size="12.6" text-anchor="end" fill="#000" stroke="#000" stroke-width="0.22">0.2</text>
<line x1="567.55" y1="1233" x2="570.75" y2="1233" stroke="#000" stroke-width="1.3"/>
<text x="565.25" y="1237.4" font-size="12.6" text-anchor="end" fill="#000" stroke="#000" stroke-width="0.22">0.0</text>
<line x1="587.25" y1="1244.5" x2="587.25" y2="1247.7" stroke="#000" stroke-width="1.3"/>
<text x="587.25" y="1260.1" font-size="12.6" text-anchor="middle" fill="#000" stroke="#000" stroke-width="0.22">0</text>
<line x1="627.25" y1="1244.5" x2="627.25" y2="1247.7" stroke="#000" stroke-width="1.3"/>
<text x="627.25" y="1260.1" font-size="12.6" text-anchor="middle" fill="#000" stroke="#000" stroke-width="0.22">6</text>
<line x1="667.5" y1="1244.5" x2="667.5" y2="1247.7" stroke="#000" stroke-width="1.3"/>
<text x="667.5" y="1260.1" font-size="12.6" text-anchor="middle" fill="#000" stroke="#000" stroke-width="0.22">12</text>
<line x1="707.5" y1="1244.5" x2="707.5" y2="1247.7" stroke="#000" stroke-width="1.3"/>
<text x="707.5" y="1260.1" font-size="12.6" text-anchor="middle" fill="#000" stroke="#000" stroke-width="0.22">18</text>
<line x1="747.5" y1="1244.5" x2="747.5" y2="1247.7" stroke="#000" stroke-width="1.3"/>
<text x="747.5" y="1260.1" font-size="12.6" text-anchor="middle" fill="#000" stroke="#000" stroke-width="0.22">24</text>
<line x1="787.75" y1="1244.5" x2="787.75" y2="1247.7" stroke="#000" stroke-width="1.3"/>
<text x="787.75" y="1260.1" font-size="12.6" text-anchor="middle" fill="#000" stroke="#000" stroke-width="0.22">30</text>
<line x1="827.75" y1="1244.5" x2="827.75" y2="1247.7" stroke="#000" stroke-width="1.3"/>
<text x="827.75" y="1260.1" font-size="12.6" text-anchor="middle" fill="#000" stroke="#000" stroke-width="0.22">36</text>
<line x1="868" y1="1244.5" x2="868" y2="1247.7" stroke="#000" stroke-width="1.3"/>
<text x="868" y="1260.1" font-size="12.6" text-anchor="middle" fill="#000" stroke="#000" stroke-width="0.22">42</text>
<line x1="908" y1="1244.5" x2="908" y2="1247.7" stroke="#000" stroke-width="1.3"/>
<text x="908" y="1260.1" font-size="12.6" text-anchor="middle" fill="#000" stroke="#000" stroke-width="0.22">48</text>
<text x="754.5" y="1275.5" font-size="14.9" text-anchor="middle" fill="#000" stroke="#000" stroke-width="0.22">Months</text>
<text x="526" y="1118" font-size="14.9" text-anchor="middle" fill="#000" stroke="#000" stroke-width="0.22" transform="rotate(-90 526 1118)">Probability of OS</text>
<text x="708" y="1053.75" font-size="13.9" text-anchor="start" fill="#000" stroke="#000" stroke-width="0.22">p = 0.14</text>
<line x1="868.75" y1="997.8" x2="882.5" y2="997.8" stroke="#F47F31" stroke-width="1.9"/>
<line x1="875.62" y1="993" x2="875.62" y2="1000.1" stroke="#F47F31" stroke-width="1.4"/>
<line x1="872.02" y1="996.7" x2="879.23" y2="996.7" stroke="#F47F31" stroke-width="1.2"/>
<text x="890.5" y="1001.8" font-size="10.55" text-anchor="start" fill="#000" stroke="#000" stroke-width="0.22">IL2R Low</text>
<line x1="868.75" y1="1010.1" x2="882.5" y2="1010.1" stroke="#3076B1" stroke-width="1.9"/>
<line x1="875.62" y1="1005.3" x2="875.62" y2="1012.4" stroke="#3076B1" stroke-width="1.4"/>
<line x1="872.02" y1="1009" x2="879.23" y2="1009" stroke="#3076B1" stroke-width="1.2"/>
<text x="890.5" y="1014.1" font-size="10.55" text-anchor="start" fill="#000" stroke="#000" stroke-width="0.22">IL2R High</text>
<text x="570.45" y="1293" font-size="16.9" text-anchor="start" fill="#000" stroke="#000" stroke-width="0.3">Number at risk</text>
<path d="M570.75 1304.5V1349.25H938" stroke="#000" stroke-width="1.7" fill="none"/>
<line x1="567.55" y1="1316.49" x2="570.75" y2="1316.49" stroke="#000" stroke-width="1.3"/>
<text x="564.55" y="1320.09" font-size="12.7" text-anchor="end" fill="#F47F31" stroke="#F47F31" stroke-width="0.22">IL2R Low</text>
<text x="587.25" y="1321.29" font-size="13.8" text-anchor="middle" fill="#000" stroke="#000" stroke-width="0.22">19</text>
<text x="627.25" y="1321.29" font-size="13.8" text-anchor="middle" fill="#000" stroke="#000" stroke-width="0.22">17</text>
<text x="667.5" y="1321.29" font-size="13.8" text-anchor="middle" fill="#000" stroke="#000" stroke-width="0.22">14</text>
<text x="707.5" y="1321.29" font-size="13.8" text-anchor="middle" fill="#000" stroke="#000" stroke-width="0.22">11</text>
<text x="747.5" y="1321.29" font-size="13.8" text-anchor="middle" fill="#000" stroke="#000" stroke-width="0.22">9</text>
<text x="787.75" y="1321.29" font-size="13.8" text-anchor="middle" fill="#000" stroke="#000" stroke-width="0.22">7</text>
<text x="827.75" y="1321.29" font-size="13.8" text-anchor="middle" fill="#000" stroke="#000" stroke-width="0.22">5</text>
<text x="868" y="1321.29" font-size="13.8" text-anchor="middle" fill="#000" stroke="#000" stroke-width="0.22">3</text>
<text x="908" y="1321.29" font-size="13.8" text-anchor="middle" fill="#000" stroke="#000" stroke-width="0.22">0</text>
<line x1="567.55" y1="1337.08" x2="570.75" y2="1337.08" stroke="#000" stroke-width="1.3"/>
<text x="564.55" y="1340.68" font-size="12.7" text-anchor="end" fill="#3076B1" stroke="#3076B1" stroke-width="0.22">IL2R High</text>
<text x="587.25" y="1341.88" font-size="13.8" text-anchor="middle" fill="#000" stroke="#000" stroke-width="0.22">18</text>
<text x="627.25" y="1341.88" font-size="13.8" text-anchor="middle" fill="#000" stroke="#000" stroke-width="0.22">11</text>
<text x="667.5" y="1341.88" font-size="13.8" text-anchor="middle" fill="#000" stroke="#000" stroke-width="0.22">9</text>
<text x="707.5" y="1341.88" font-size="13.8" text-anchor="middle" fill="#000" stroke="#000" stroke-width="0.22">6</text>
<text x="747.5" y="1341.88" font-size="13.8" text-anchor="middle" fill="#000" stroke="#000" stroke-width="0.22">3</text>
<text x="787.75" y="1341.88" font-size="13.8" text-anchor="middle" fill="#000" stroke="#000" stroke-width="0.22">2</text>
<text x="827.75" y="1341.88" font-size="13.8" text-anchor="middle" fill="#000" stroke="#000" stroke-width="0.22">2</text>
<text x="868" y="1341.88" font-size="13.8" text-anchor="middle" fill="#000" stroke="#000" stroke-width="0.22">0</text>
<text x="908" y="1341.88" font-size="13.8" text-anchor="middle" fill="#000" stroke="#000" stroke-width="0.22">0</text>
<line x1="587.25" y1="1349.25" x2="587.25" y2="1352.45" stroke="#000" stroke-width="1.3"/>
<text x="587.25" y="1364.55" font-size="12.6" text-anchor="middle" fill="#000" stroke="#000" stroke-width="0.22">0</text>
<line x1="627.25" y1="1349.25" x2="627.25" y2="1352.45" stroke="#000" stroke-width="1.3"/>
<text x="627.25" y="1364.55" font-size="12.6" text-anchor="middle" fill="#000" stroke="#000" stroke-width="0.22">6</text>
<line x1="667.5" y1="1349.25" x2="667.5" y2="1352.45" stroke="#000" stroke-width="1.3"/>
<text x="667.5" y="1364.55" font-size="12.6" text-anchor="middle" fill="#000" stroke="#000" stroke-width="0.22">12</text>
<line x1="707.5" y1="1349.25" x2="707.5" y2="1352.45" stroke="#000" stroke-width="1.3"/>
<text x="707.5" y="1364.55" font-size="12.6" text-anchor="middle" fill="#000" stroke="#000" stroke-width="0.22">18</text>
<line x1="747.5" y1="1349.25" x2="747.5" y2="1352.45" stroke="#000" stroke-width="1.3"/>
<text x="747.5" y="1364.55" font-size="12.6" text-anchor="middle" fill="#000" stroke="#000" stroke-width="0.22">24</text>
<line x1="787.75" y1="1349.25" x2="787.75" y2="1352.45" stroke="#000" stroke-width="1.3"/>
<text x="787.75" y="1364.55" font-size="12.6" text-anchor="middle" fill="#000" stroke="#000" stroke-width="0.22">30</text>
<line x1="827.75" y1="1349.25" x2="827.75" y2="1352.45" stroke="#000" stroke-width="1.3"/>
<text x="827.75" y="1364.55" font-size="12.6" text-anchor="middle" fill="#000" stroke="#000" stroke-width="0.22">36</text>
<line x1="868" y1="1349.25" x2="868" y2="1352.45" stroke="#000" stroke-width="1.3"/>
<text x="868" y="1364.55" font-size="12.6" text-anchor="middle" fill="#000" stroke="#000" stroke-width="0.22">42</text>
<line x1="908" y1="1349.25" x2="908" y2="1352.45" stroke="#000" stroke-width="1.3"/>
<text x="908" y="1364.55" font-size="12.6" text-anchor="middle" fill="#000" stroke="#000" stroke-width="0.22">48</text>
<text x="754.5" y="1380.45" font-size="14.9" text-anchor="middle" fill="#000" stroke="#000" stroke-width="0.22">Months</text>
<g stroke="#000" stroke-width="1.95" stroke-dasharray="18.6 16.6" fill="none">
<path d="M1110.07 1119.61H1261.04"/>
<path d="M1134.89 1235.3V1119.61"/>
<path d="M1261.04 1235.3V1119.61"/>
</g>
<path d="M1110.07 1004.21L1128.24 1004.21L1128.24 1017.77L1135.92 1017.77L1135.92 1031.59L1136.94 1031.59L1136.94 1045.15L1158.43 1045.15L1158.43 1059.73L1159.71 1059.73L1159.71 1074.32L1188.88 1074.32L1188.88 1088.65L1244.92 1088.65L1244.92 1103.49L1254.39 1103.49L1254.39 1118.08L1261.04 1118.08L1261.04 1132.66L1287.91 1132.66L1287.91 1147.5L1311.2 1147.5L1311.2 1162.09L1336.27 1162.09L1336.27 1176.67L1382.08 1176.67L1382.08 1191.26L1413.04 1191.26L1413.04 1205.84L1428.14 1205.84" stroke="#F47F31" stroke-width="1.9" fill="none" stroke-linejoin="miter"/>
<path d="M1146.23 1043.87H1153.23M1149.73 1040.37V1047.37M1411.84 1204.82H1418.84M1415.34 1201.32V1208.32M1420.8 1204.82H1427.8M1424.3 1201.32V1208.32" stroke="#F47F31" stroke-width="1.3" fill="none"/>
<path d="M1110.07 1004.21L1117.49 1004.21L1117.49 1015.98L1120.05 1015.98L1120.05 1027.24L1122.35 1027.24L1122.35 1038.75L1123.89 1038.75L1123.89 1050.27L1125.17 1050.27L1125.17 1062.04L1130.8 1062.04L1130.8 1074.58L1132.33 1074.58L1132.33 1086.86L1133.61 1086.86L1133.61 1098.88L1134.38 1098.88L1134.38 1111.68L1135.15 1111.68L1135.15 1123.96L1137.2 1123.96L1137.2 1136.24L1138.73 1136.24L1138.73 1148.78L1140.27 1148.78L1140.27 1161.06L1145.38 1161.06L1145.38 1173.35L1188.12 1173.35L1188.12 1194.07L1196.56 1194.07L1196.56 1214.8L1321.43 1214.8L1321.43 1235.27" stroke="#3076B1" stroke-width="1.9" fill="none" stroke-linejoin="miter"/>
<path d="M1125.25 1061.01H1132.25M1128.75 1057.51V1064.51M1148.28 1172.07H1155.28M1151.78 1168.57V1175.57" stroke="#3076B1" stroke-width="1.3" fill="none"/>
<path d="M1093.95 992.7V1247.3H1462.7" stroke="#000" stroke-width="1.7" fill="none"/>
<line x1="1090.75" y1="1004.2" x2="1093.95" y2="1004.2" stroke="#000" stroke-width="1.3"/>
<text x="1088.45" y="1008.6" font-size="12.6" text-anchor="end" fill="#000" stroke="#000" stroke-width="0.22">1.0</text>
<line x1="1090.75" y1="1050.42" x2="1093.95" y2="1050.42" stroke="#000" stroke-width="1.3"/>
<text x="1088.45" y="1054.82" font-size="12.6" text-anchor="end" fill="#000" stroke="#000" stroke-width="0.22">0.8</text>
<line x1="1090.75" y1="1096.64" x2="1093.95" y2="1096.64" stroke="#000" stroke-width="1.3"/>
<text x="1088.45" y="1101.04" font-size="12.6" text-anchor="end" fill="#000" stroke="#000" stroke-width="0.22">0.6</text>
<line x1="1090.75" y1="1142.86" x2="1093.95" y2="1142.86" stroke="#000" stroke-width="1.3"/>
<text x="1088.45" y="1147.26" font-size="12.6" text-anchor="end" fill="#000" stroke="#000" stroke-width="0.22">0.4</text>
<line x1="1090.75" y1="1189.08" x2="1093.95" y2="1189.08" stroke="#000" stroke-width="1.3"/>
<text x="1088.45" y="1193.48" font-size="12.6" text-anchor="end" fill="#000" stroke="#000" stroke-width="0.22">0.2</text>
<line x1="1090.75" y1="1235.3" x2="1093.95" y2="1235.3" stroke="#000" stroke-width="1.3"/>
<text x="1088.45" y="1239.7" font-size="12.6" text-anchor="end" fill="#000" stroke="#000" stroke-width="0.22">0.0</text>
<line x1="1110.1" y1="1247.3" x2="1110.1" y2="1250.5" stroke="#000" stroke-width="1.3"/>
<text x="1110.1" y="1262.9" font-size="12.6" text-anchor="middle" fill="#000" stroke="#000" stroke-width="0.22">0</text>
<line x1="1160.5" y1="1247.3" x2="1160.5" y2="1250.5" stroke="#000" stroke-width="1.3"/>
<text x="1160.5" y="1262.9" font-size="12.6" text-anchor="middle" fill="#000" stroke="#000" stroke-width="0.22">6</text>
<line x1="1210.9" y1="1247.3" x2="1210.9" y2="1250.5" stroke="#000" stroke-width="1.3"/>
<text x="1210.9" y="1262.9" font-size="12.6" text-anchor="middle" fill="#000" stroke="#000" stroke-width="0.22">12</text>
<line x1="1261" y1="1247.3" x2="1261" y2="1250.5" stroke="#000" stroke-width="1.3"/>
<text x="1261" y="1262.9" font-size="12.6" text-anchor="middle" fill="#000" stroke="#000" stroke-width="0.22">18</text>
<line x1="1311.5" y1="1247.3" x2="1311.5" y2="1250.5" stroke="#000" stroke-width="1.3"/>
<text x="1311.5" y="1262.9" font-size="12.6" text-anchor="middle" fill="#000" stroke="#000" stroke-width="0.22">24</text>
<line x1="1361.9" y1="1247.3" x2="1361.9" y2="1250.5" stroke="#000" stroke-width="1.3"/>
<text x="1361.9" y="1262.9" font-size="12.6" text-anchor="middle" fill="#000" stroke="#000" stroke-width="0.22">30</text>
<line x1="1412.3" y1="1247.3" x2="1412.3" y2="1250.5" stroke="#000" stroke-width="1.3"/>
<text x="1412.3" y="1262.9" font-size="12.6" text-anchor="middle" fill="#000" stroke="#000" stroke-width="0.22">36</text>
<text x="1278" y="1278" font-size="14.9" text-anchor="middle" fill="#000" stroke="#000" stroke-width="0.22">Months</text>
<text x="1048.5" y="1118.8" font-size="14.9" text-anchor="middle" fill="#000" stroke="#000" stroke-width="0.22" transform="rotate(-90 1048.5 1118.8)">Probability of PFS</text>
<text x="1261.8" y="1055.4" font-size="13.9" text-anchor="start" fill="#000" stroke="#000" stroke-width="0.22">p = 0.00058</text>
<line x1="1391" y1="998.1" x2="1405" y2="998.1" stroke="#F47F31" stroke-width="1.9"/>
<line x1="1398" y1="993.3" x2="1398" y2="1000.4" stroke="#F47F31" stroke-width="1.4"/>
<line x1="1394.4" y1="997" x2="1401.6" y2="997" stroke="#F47F31" stroke-width="1.2"/>
<text x="1412.8" y="1002.1" font-size="10.55" text-anchor="start" fill="#000" stroke="#000" stroke-width="0.22">IL2R Low</text>
<line x1="1391" y1="1011.5" x2="1405" y2="1011.5" stroke="#3076B1" stroke-width="1.9"/>
<line x1="1398" y1="1006.7" x2="1398" y2="1013.8" stroke="#3076B1" stroke-width="1.4"/>
<line x1="1394.4" y1="1010.4" x2="1401.6" y2="1010.4" stroke="#3076B1" stroke-width="1.2"/>
<text x="1412.8" y="1015.5" font-size="10.55" text-anchor="start" fill="#000" stroke="#000" stroke-width="0.22">IL2R High</text>
<text x="1093.65" y="1293.9" font-size="16.9" text-anchor="start" fill="#000" stroke="#000" stroke-width="0.3">Number at risk</text>
<path d="M1093.95 1304.9V1349.7H1462.7" stroke="#000" stroke-width="1.7" fill="none"/>
<line x1="1090.75" y1="1316.91" x2="1093.95" y2="1316.91" stroke="#000" stroke-width="1.3"/>
<text x="1087.75" y="1320.51" font-size="12.7" text-anchor="end" fill="#F47F31" stroke="#F47F31" stroke-width="0.22">IL2R Low</text>
<text x="1110.1" y="1321.71" font-size="13.8" text-anchor="middle" fill="#000" stroke="#000" stroke-width="0.22">17</text>
<text x="1160.5" y="1321.71" font-size="13.8" text-anchor="middle" fill="#000" stroke="#000" stroke-width="0.22">11</text>
<text x="1210.9" y="1321.71" font-size="13.8" text-anchor="middle" fill="#000" stroke="#000" stroke-width="0.22">10</text>
<text x="1261" y="1321.71" font-size="13.8" text-anchor="middle" fill="#000" stroke="#000" stroke-width="0.22">8</text>
<text x="1311.5" y="1321.71" font-size="13.8" text-anchor="middle" fill="#000" stroke="#000" stroke-width="0.22">5</text>
<text x="1361.9" y="1321.71" font-size="13.8" text-anchor="middle" fill="#000" stroke="#000" stroke-width="0.22">4</text>
<text x="1412.3" y="1321.71" font-size="13.8" text-anchor="middle" fill="#000" stroke="#000" stroke-width="0.22">3</text>
<line x1="1090.75" y1="1337.51" x2="1093.95" y2="1337.51" stroke="#000" stroke-width="1.3"/>
<text x="1087.75" y="1341.11" font-size="12.7" text-anchor="end" fill="#3076B1" stroke="#3076B1" stroke-width="0.22">IL2R High</text>
<text x="1110.1" y="1342.31" font-size="13.8" text-anchor="middle" fill="#000" stroke="#000" stroke-width="0.22">20</text>
<text x="1160.5" y="1342.31" font-size="13.8" text-anchor="middle" fill="#000" stroke="#000" stroke-width="0.22">3</text>
<text x="1210.9" y="1342.31" font-size="13.8" text-anchor="middle" fill="#000" stroke="#000" stroke-width="0.22">1</text>
<text x="1261" y="1342.31" font-size="13.8" text-anchor="middle" fill="#000" stroke="#000" stroke-width="0.22">1</text>
<text x="1311.5" y="1342.31" font-size="13.8" text-anchor="middle" fill="#000" stroke="#000" stroke-width="0.22">1</text>
<text x="1361.9" y="1342.31" font-size="13.8" text-anchor="middle" fill="#000" stroke="#000" stroke-width="0.22">0</text>
<text x="1412.3" y="1342.31" font-size="13.8" text-anchor="middle" fill="#000" stroke="#000" stroke-width="0.22">0</text>
<line x1="1110.1" y1="1349.7" x2="1110.1" y2="1352.9" stroke="#000" stroke-width="1.3"/>
<text x="1110.1" y="1365" font-size="12.6" text-anchor="middle" fill="#000" stroke="#000" stroke-width="0.22">0</text>
<line x1="1160.5" y1="1349.7" x2="1160.5" y2="1352.9" stroke="#000" stroke-width="1.3"/>
<text x="1160.5" y="1365" font-size="12.6" text-anchor="middle" fill="#000" stroke="#000" stroke-width="0.22">6</text>
<line x1="1210.9" y1="1349.7" x2="1210.9" y2="1352.9" stroke="#000" stroke-width="1.3"/>
<text x="1210.9" y="1365" font-size="12.6" text-anchor="middle" fill="#000" stroke="#000" stroke-width="0.22">12</text>
<line x1="1261" y1="1349.7" x2="1261" y2="1352.9" stroke="#000" stroke-width="1.3"/>
<text x="1261" y="1365" font-size="12.6" text-anchor="middle" fill="#000" stroke="#000" stroke-width="0.22">18</text>
<line x1="1311.5" y1="1349.7" x2="1311.5" y2="1352.9" stroke="#000" stroke-width="1.3"/>
<text x="1311.5" y="1365" font-size="12.6" text-anchor="middle" fill="#000" stroke="#000" stroke-width="0.22">24</text>
<line x1="1361.9" y1="1349.7" x2="1361.9" y2="1352.9" stroke="#000" stroke-width="1.3"/>
<text x="1361.9" y="1365" font-size="12.6" text-anchor="middle" fill="#000" stroke="#000" stroke-width="0.22">30</text>
<line x1="1412.3" y1="1349.7" x2="1412.3" y2="1352.9" stroke="#000" stroke-width="1.3"/>
<text x="1412.3" y="1365" font-size="12.6" text-anchor="middle" fill="#000" stroke="#000" stroke-width="0.22">36</text>
<text x="1278" y="1380.9" font-size="14.9" text-anchor="middle" fill="#000" stroke="#000" stroke-width="0.22">Months</text>
<g stroke="#000" stroke-width="1.95" stroke-dasharray="18.6 16.6" fill="none">
<path d="M1626.8 1117.12H1859.12"/>
<path d="M1678.4 1230.9V1117.12"/>
<path d="M1858.88 1230.9V1117.12"/>
</g>
<path d="M1626.8 1003.36L1659.92 1003.36L1659.92 1016.8L1696.88 1016.8L1696.88 1030L1710.8 1030L1710.8 1043.44L1727.36 1043.44L1727.36 1056.88L1731.92 1056.88L1731.92 1070.32L1751.12 1070.32L1751.12 1083.76L1778 1083.76L1778 1096.96L1800.32 1096.96L1800.32 1110.4L1859.12 1110.4L1859.12 1126L1943.6 1126" stroke="#F47F31" stroke-width="1.9" fill="none" stroke-linejoin="miter"/>
<path d="M1818.42 1109.2H1825.42M1821.92 1105.7V1112.7M1866.18 1124.8H1873.18M1869.68 1121.3V1128.3M1869.3 1124.8H1876.3M1872.8 1121.3V1128.3M1874.1 1124.8H1881.1M1877.6 1121.3V1128.3M1876.5 1124.8H1883.5M1880 1121.3V1128.3M1931.7 1124.8H1938.7M1935.2 1121.3V1128.3M1936.5 1124.8H1943.5M1940 1121.3V1128.3" stroke="#F47F31" stroke-width="1.3" fill="none"/>
<path d="M1626.8 1003.36L1638.32 1003.36L1638.32 1014.88L1640.24 1014.88L1640.24 1026.16L1646.48 1026.16L1646.48 1037.68L1650.8 1037.68L1650.8 1060.48L1658.24 1060.48L1658.24 1071.76L1660.64 1071.76L1660.64 1083.04L1661.6 1083.04L1661.6 1094.56L1671.44 1094.56L1671.44 1106.08L1673.84 1106.08L1673.84 1117.12L1682.96 1117.12L1682.96 1128.64L1697.84 1128.64L1697.84 1140.16L1718.96 1140.16L1718.96 1151.44L1727.84 1151.44L1727.84 1164.64L1760.96 1164.64L1760.96 1177.84L1888.4 1177.84L1888.4 1230.88" stroke="#3076B1" stroke-width="1.9" fill="none" stroke-linejoin="miter"/>
<path d="M1722.42 1150H1729.42M1725.92 1146.5V1153.5M1763.7 1176.64H1770.7M1767.2 1173.14V1180.14M1780.5 1176.64H1787.5M1784 1173.14V1180.14M1807.62 1176.64H1814.62M1811.12 1173.14V1180.14" stroke="#3076B1" stroke-width="1.3" fill="none"/>
<path d="M1610.2 992.3V1242.4H1980.8" stroke="#000" stroke-width="1.7" fill="none"/>
<line x1="1607" y1="1003.4" x2="1610.2" y2="1003.4" stroke="#000" stroke-width="1.3"/>
<text x="1604.7" y="1007.8" font-size="12.6" text-anchor="end" fill="#000" stroke="#000" stroke-width="0.22">1.0</text>
<line x1="1607" y1="1048.9" x2="1610.2" y2="1048.9" stroke="#000" stroke-width="1.3"/>
<text x="1604.7" y="1053.3" font-size="12.6" text-anchor="end" fill="#000" stroke="#000" stroke-width="0.22">0.8</text>
<line x1="1607" y1="1094.4" x2="1610.2" y2="1094.4" stroke="#000" stroke-width="1.3"/>
<text x="1604.7" y="1098.8" font-size="12.6" text-anchor="end" fill="#000" stroke="#000" stroke-width="0.22">0.6</text>
<line x1="1607" y1="1139.9" x2="1610.2" y2="1139.9" stroke="#000" stroke-width="1.3"/>
<text x="1604.7" y="1144.3" font-size="12.6" text-anchor="end" fill="#000" stroke="#000" stroke-width="0.22">0.4</text>
<line x1="1607" y1="1185.4" x2="1610.2" y2="1185.4" stroke="#000" stroke-width="1.3"/>
<text x="1604.7" y="1189.8" font-size="12.6" text-anchor="end" fill="#000" stroke="#000" stroke-width="0.22">0.2</text>
<line x1="1607" y1="1230.9" x2="1610.2" y2="1230.9" stroke="#000" stroke-width="1.3"/>
<text x="1604.7" y="1235.3" font-size="12.6" text-anchor="end" fill="#000" stroke="#000" stroke-width="0.22">0.0</text>
<line x1="1626.8" y1="1242.4" x2="1626.8" y2="1245.6" stroke="#000" stroke-width="1.3"/>
<text x="1626.8" y="1258" font-size="12.6" text-anchor="middle" fill="#000" stroke="#000" stroke-width="0.22">0</text>
<line x1="1667.1" y1="1242.4" x2="1667.1" y2="1245.6" stroke="#000" stroke-width="1.3"/>
<text x="1667.1" y="1258" font-size="12.6" text-anchor="middle" fill="#000" stroke="#000" stroke-width="0.22">6</text>
<line x1="1707.7" y1="1242.4" x2="1707.7" y2="1245.6" stroke="#000" stroke-width="1.3"/>
<text x="1707.7" y="1258" font-size="12.6" text-anchor="middle" fill="#000" stroke="#000" stroke-width="0.22">12</text>
<line x1="1748.2" y1="1242.4" x2="1748.2" y2="1245.6" stroke="#000" stroke-width="1.3"/>
<text x="1748.2" y="1258" font-size="12.6" text-anchor="middle" fill="#000" stroke="#000" stroke-width="0.22">18</text>
<line x1="1788.6" y1="1242.4" x2="1788.6" y2="1245.6" stroke="#000" stroke-width="1.3"/>
<text x="1788.6" y="1258" font-size="12.6" text-anchor="middle" fill="#000" stroke="#000" stroke-width="0.22">24</text>
<line x1="1829.1" y1="1242.4" x2="1829.1" y2="1245.6" stroke="#000" stroke-width="1.3"/>
<text x="1829.1" y="1258" font-size="12.6" text-anchor="middle" fill="#000" stroke="#000" stroke-width="0.22">30</text>
<line x1="1869.7" y1="1242.4" x2="1869.7" y2="1245.6" stroke="#000" stroke-width="1.3"/>
<text x="1869.7" y="1258" font-size="12.6" text-anchor="middle" fill="#000" stroke="#000" stroke-width="0.22">36</text>
<line x1="1910" y1="1242.4" x2="1910" y2="1245.6" stroke="#000" stroke-width="1.3"/>
<text x="1910" y="1258" font-size="12.6" text-anchor="middle" fill="#000" stroke="#000" stroke-width="0.22">42</text>
<line x1="1950.6" y1="1242.4" x2="1950.6" y2="1245.6" stroke="#000" stroke-width="1.3"/>
<text x="1950.6" y="1258" font-size="12.6" text-anchor="middle" fill="#000" stroke="#000" stroke-width="0.22">48</text>
<text x="1795.5" y="1273.6" font-size="14.9" text-anchor="middle" fill="#000" stroke="#000" stroke-width="0.22">Months</text>
<text x="1565.3" y="1117.6" font-size="14.9" text-anchor="middle" fill="#000" stroke="#000" stroke-width="0.22" transform="rotate(-90 1565.3 1117.6)">Probability of OS</text>
<text x="1748.5" y="1054" font-size="13.9" text-anchor="start" fill="#000" stroke="#000" stroke-width="0.22">p = 0.0045</text>
<line x1="1910.5" y1="996.7" x2="1924.4" y2="996.7" stroke="#F47F31" stroke-width="1.9"/>
<line x1="1917.45" y1="991.9" x2="1917.45" y2="999" stroke="#F47F31" stroke-width="1.4"/>
<line x1="1913.85" y1="995.6" x2="1921.05" y2="995.6" stroke="#F47F31" stroke-width="1.2"/>
<text x="1932.8" y="1000.7" font-size="10.55" text-anchor="start" fill="#000" stroke="#000" stroke-width="0.22">IL2R Low</text>
<line x1="1910.5" y1="1009.7" x2="1924.4" y2="1009.7" stroke="#3076B1" stroke-width="1.9"/>
<line x1="1917.45" y1="1004.9" x2="1917.45" y2="1012" stroke="#3076B1" stroke-width="1.4"/>
<line x1="1913.85" y1="1008.6" x2="1921.05" y2="1008.6" stroke="#3076B1" stroke-width="1.2"/>
<text x="1932.8" y="1013.7" font-size="10.55" text-anchor="start" fill="#000" stroke="#000" stroke-width="0.22">IL2R High</text>
<text x="1609.9" y="1292.8" font-size="16.9" text-anchor="start" fill="#000" stroke="#000" stroke-width="0.3">Number at risk</text>
<path d="M1610.2 1303.1V1347.5H1980.8" stroke="#000" stroke-width="1.7" fill="none"/>
<line x1="1607" y1="1315" x2="1610.2" y2="1315" stroke="#000" stroke-width="1.3"/>
<text x="1604" y="1318.6" font-size="12.7" text-anchor="end" fill="#F47F31" stroke="#F47F31" stroke-width="0.22">IL2R Low</text>
<text x="1626.8" y="1319.8" font-size="13.8" text-anchor="middle" fill="#000" stroke="#000" stroke-width="0.22">17</text>
<text x="1667.1" y="1319.8" font-size="13.8" text-anchor="middle" fill="#000" stroke="#000" stroke-width="0.22">16</text>
<text x="1707.7" y="1319.8" font-size="13.8" text-anchor="middle" fill="#000" stroke="#000" stroke-width="0.22">15</text>
<text x="1748.2" y="1319.8" font-size="13.8" text-anchor="middle" fill="#000" stroke="#000" stroke-width="0.22">12</text>
<text x="1788.6" y="1319.8" font-size="13.8" text-anchor="middle" fill="#000" stroke="#000" stroke-width="0.22">10</text>
<text x="1829.1" y="1319.8" font-size="13.8" text-anchor="middle" fill="#000" stroke="#000" stroke-width="0.22">8</text>
<text x="1869.7" y="1319.8" font-size="13.8" text-anchor="middle" fill="#000" stroke="#000" stroke-width="0.22">6</text>
<text x="1910" y="1319.8" font-size="13.8" text-anchor="middle" fill="#000" stroke="#000" stroke-width="0.22">3</text>
<text x="1950.6" y="1319.8" font-size="13.8" text-anchor="middle" fill="#000" stroke="#000" stroke-width="0.22">0</text>
<line x1="1607" y1="1335.42" x2="1610.2" y2="1335.42" stroke="#000" stroke-width="1.3"/>
<text x="1604" y="1339.02" font-size="12.7" text-anchor="end" fill="#3076B1" stroke="#3076B1" stroke-width="0.22">IL2R High</text>
<text x="1626.8" y="1340.22" font-size="13.8" text-anchor="middle" fill="#000" stroke="#000" stroke-width="0.22">20</text>
<text x="1667.1" y="1340.22" font-size="13.8" text-anchor="middle" fill="#000" stroke="#000" stroke-width="0.22">12</text>
<text x="1707.7" y="1340.22" font-size="13.8" text-anchor="middle" fill="#000" stroke="#000" stroke-width="0.22">8</text>
<text x="1748.2" y="1340.22" font-size="13.8" text-anchor="middle" fill="#000" stroke="#000" stroke-width="0.22">5</text>
<text x="1788.6" y="1340.22" font-size="13.8" text-anchor="middle" fill="#000" stroke="#000" stroke-width="0.22">2</text>
<text x="1829.1" y="1340.22" font-size="13.8" text-anchor="middle" fill="#000" stroke="#000" stroke-width="0.22">1</text>
<text x="1869.7" y="1340.22" font-size="13.8" text-anchor="middle" fill="#000" stroke="#000" stroke-width="0.22">1</text>
<text x="1910" y="1340.22" font-size="13.8" text-anchor="middle" fill="#000" stroke="#000" stroke-width="0.22">0</text>
<text x="1950.6" y="1340.22" font-size="13.8" text-anchor="middle" fill="#000" stroke="#000" stroke-width="0.22">0</text>
<line x1="1626.8" y1="1347.5" x2="1626.8" y2="1350.7" stroke="#000" stroke-width="1.3"/>
<text x="1626.8" y="1362.8" font-size="12.6" text-anchor="middle" fill="#000" stroke="#000" stroke-width="0.22">0</text>
<line x1="1667.1" y1="1347.5" x2="1667.1" y2="1350.7" stroke="#000" stroke-width="1.3"/>
<text x="1667.1" y="1362.8" font-size="12.6" text-anchor="middle" fill="#000" stroke="#000" stroke-width="0.22">6</text>
<line x1="1707.7" y1="1347.5" x2="1707.7" y2="1350.7" stroke="#000" stroke-width="1.3"/>
<text x="1707.7" y="1362.8" font-size="12.6" text-anchor="middle" fill="#000" stroke="#000" stroke-width="0.22">12</text>
<line x1="1748.2" y1="1347.5" x2="1748.2" y2="1350.7" stroke="#000" stroke-width="1.3"/>
<text x="1748.2" y="1362.8" font-size="12.6" text-anchor="middle" fill="#000" stroke="#000" stroke-width="0.22">18</text>
<line x1="1788.6" y1="1347.5" x2="1788.6" y2="1350.7" stroke="#000" stroke-width="1.3"/>
<text x="1788.6" y="1362.8" font-size="12.6" text-anchor="middle" fill="#000" stroke="#000" stroke-width="0.22">24</text>
<line x1="1829.1" y1="1347.5" x2="1829.1" y2="1350.7" stroke="#000" stroke-width="1.3"/>
<text x="1829.1" y="1362.8" font-size="12.6" text-anchor="middle" fill="#000" stroke="#000" stroke-width="0.22">30</text>
<line x1="1869.7" y1="1347.5" x2="1869.7" y2="1350.7" stroke="#000" stroke-width="1.3"/>
<text x="1869.7" y="1362.8" font-size="12.6" text-anchor="middle" fill="#000" stroke="#000" stroke-width="0.22">36</text>
<line x1="1910" y1="1347.5" x2="1910" y2="1350.7" stroke="#000" stroke-width="1.3"/>
<text x="1910" y="1362.8" font-size="12.6" text-anchor="middle" fill="#000" stroke="#000" stroke-width="0.22">42</text>
<line x1="1950.6" y1="1347.5" x2="1950.6" y2="1350.7" stroke="#000" stroke-width="1.3"/>
<text x="1950.6" y="1362.8" font-size="12.6" text-anchor="middle" fill="#000" stroke="#000" stroke-width="0.22">48</text>
<text x="1795.5" y="1378.7" font-size="14.9" text-anchor="middle" fill="#000" stroke="#000" stroke-width="0.22">Months</text>
<g stroke="#000" stroke-width="1.95" stroke-dasharray="18.6 16.6" fill="none">
<path d="M80.75 1574.75H129.5"/>
<path d="M128.75 1690V1574.75"/>
<path d="M130.25 1690V1574.75"/>
</g>
<path d="M80.75 1459.5L93 1459.5L93 1473L94.75 1473L94.75 1486.75L95.75 1486.75L95.75 1500.25L98.5 1500.25L98.5 1513L101.5 1513L101.5 1528.25L105.5 1528.25L105.5 1542.75L107 1542.75L107 1557.5L109 1557.5L109 1572.25L129 1572.25L129 1589.25L158 1589.25L158 1606L159.5 1606L159.5 1622.75L214.5 1622.75L214.5 1639.75L231.25 1639.75L231.25 1656.5L352 1656.5L352 1673.25L387.5 1673.25" stroke="#F47F31" stroke-width="1.9" fill="none" stroke-linejoin="miter"/>
<path d="M95.75 1512.5H102.75M99.25 1509V1516M118.25 1571.25H125.25M121.75 1567.75V1574.75M382.25 1671.5H389.25M385.75 1668V1675" stroke="#F47F31" stroke-width="1.3" fill="none"/>
<path d="M80.75 1459.5L88 1459.5L88 1471.25L90.75 1471.25L90.75 1482.5L103.25 1482.5L103.25 1494.25L104.5 1494.25L104.5 1505.75L105.5 1505.75L105.5 1517.5L106 1517.5L106 1528.75L108 1528.75L108 1540.25L110.75 1540.25L110.75 1551.75L116 1551.75L116 1563.25L130.25 1563.25L130.25 1577.25L167.25 1577.25L167.25 1591.25L225 1591.25L225 1605.25L257.75 1605.25L257.75 1619.25L281.5 1619.25L281.5 1633.5L291.25 1633.5L291.25 1647.5L306.5 1647.5L306.5 1661.5L383 1661.5L383 1675.5L397.5 1675.5" stroke="#3076B1" stroke-width="1.9" fill="none" stroke-linejoin="miter"/>
<path d="M116.5 1562H123.5M120 1558.5V1565.5M119.5 1562H126.5M123 1558.5V1565.5M391 1674.5H398M394.5 1671V1678" stroke="#3076B1" stroke-width="1.3" fill="none"/>
<path d="M64.5 1448.25V1701.25H432.5" stroke="#000" stroke-width="1.7" fill="none"/>
<line x1="61.3" y1="1459.5" x2="64.5" y2="1459.5" stroke="#000" stroke-width="1.3"/>
<text x="59" y="1463.9" font-size="12.6" text-anchor="end" fill="#000" stroke="#000" stroke-width="0.22">1.0</text>
<line x1="61.3" y1="1505.6" x2="64.5" y2="1505.6" stroke="#000" stroke-width="1.3"/>
<text x="59" y="1510" font-size="12.6" text-anchor="end" fill="#000" stroke="#000" stroke-width="0.22">0.8</text>
<line x1="61.3" y1="1551.7" x2="64.5" y2="1551.7" stroke="#000" stroke-width="1.3"/>
<text x="59" y="1556.1" font-size="12.6" text-anchor="end" fill="#000" stroke="#000" stroke-width="0.22">0.6</text>
<line x1="61.3" y1="1597.8" x2="64.5" y2="1597.8" stroke="#000" stroke-width="1.3"/>
<text x="59" y="1602.2" font-size="12.6" text-anchor="end" fill="#000" stroke="#000" stroke-width="0.22">0.4</text>
<line x1="61.3" y1="1643.9" x2="64.5" y2="1643.9" stroke="#000" stroke-width="1.3"/>
<text x="59" y="1648.3" font-size="12.6" text-anchor="end" fill="#000" stroke="#000" stroke-width="0.22">0.2</text>
<line x1="61.3" y1="1690" x2="64.5" y2="1690" stroke="#000" stroke-width="1.3"/>
<text x="59" y="1694.4" font-size="12.6" text-anchor="end" fill="#000" stroke="#000" stroke-width="0.22">0.0</text>
<line x1="80.75" y1="1701.25" x2="80.75" y2="1704.45" stroke="#000" stroke-width="1.3"/>
<text x="80.75" y="1716.85" font-size="12.6" text-anchor="middle" fill="#000" stroke="#000" stroke-width="0.22">0</text>
<line x1="131" y1="1701.25" x2="131" y2="1704.45" stroke="#000" stroke-width="1.3"/>
<text x="131" y="1716.85" font-size="12.6" text-anchor="middle" fill="#000" stroke="#000" stroke-width="0.22">6</text>
<line x1="181.25" y1="1701.25" x2="181.25" y2="1704.45" stroke="#000" stroke-width="1.3"/>
<text x="181.25" y="1716.85" font-size="12.6" text-anchor="middle" fill="#000" stroke="#000" stroke-width="0.22">12</text>
<line x1="231.5" y1="1701.25" x2="231.5" y2="1704.45" stroke="#000" stroke-width="1.3"/>
<text x="231.5" y="1716.85" font-size="12.6" text-anchor="middle" fill="#000" stroke="#000" stroke-width="0.22">18</text>
<line x1="281.5" y1="1701.25" x2="281.5" y2="1704.45" stroke="#000" stroke-width="1.3"/>
<text x="281.5" y="1716.85" font-size="12.6" text-anchor="middle" fill="#000" stroke="#000" stroke-width="0.22">24</text>
<line x1="331.75" y1="1701.25" x2="331.75" y2="1704.45" stroke="#000" stroke-width="1.3"/>
<text x="331.75" y="1716.85" font-size="12.6" text-anchor="middle" fill="#000" stroke="#000" stroke-width="0.22">30</text>
<line x1="382" y1="1701.25" x2="382" y2="1704.45" stroke="#000" stroke-width="1.3"/>
<text x="382" y="1716.85" font-size="12.6" text-anchor="middle" fill="#000" stroke="#000" stroke-width="0.22">36</text>
<text x="248.25" y="1732.45" font-size="14.9" text-anchor="middle" fill="#000" stroke="#000" stroke-width="0.22">Months</text>
<text x="26" y="1574.5" font-size="14.9" text-anchor="middle" fill="#000" stroke="#000" stroke-width="0.22" transform="rotate(-90 26 1574.5)">Probability of PFS</text>
<text x="232" y="1510.5" font-size="13.9" text-anchor="start" fill="#000" stroke="#000" stroke-width="0.22">p = 0.53</text>
<line x1="368" y1="1453.3" x2="382" y2="1453.3" stroke="#F47F31" stroke-width="1.9"/>
<line x1="375" y1="1448.5" x2="375" y2="1455.6" stroke="#F47F31" stroke-width="1.4"/>
<line x1="371.4" y1="1452.2" x2="378.6" y2="1452.2" stroke="#F47F31" stroke-width="1.2"/>
<text x="389.5" y="1457.3" font-size="10.55" text-anchor="start" fill="#000" stroke="#000" stroke-width="0.22">IL21 Low</text>
<line x1="368" y1="1466.35" x2="382" y2="1466.35" stroke="#3076B1" stroke-width="1.9"/>
<line x1="375" y1="1461.55" x2="375" y2="1468.65" stroke="#3076B1" stroke-width="1.4"/>
<line x1="371.4" y1="1465.25" x2="378.6" y2="1465.25" stroke="#3076B1" stroke-width="1.2"/>
<text x="389.5" y="1470.35" font-size="10.55" text-anchor="start" fill="#000" stroke="#000" stroke-width="0.22">IL21 High</text>
<text x="64.2" y="1749.5" font-size="16.9" text-anchor="start" fill="#000" stroke="#000" stroke-width="0.3">Number at risk</text>
<path d="M64.5 1760V1804.5H432.5" stroke="#000" stroke-width="1.7" fill="none"/>
<line x1="61.3" y1="1771.93" x2="64.5" y2="1771.93" stroke="#000" stroke-width="1.3"/>
<text x="58.3" y="1775.53" font-size="12.7" text-anchor="end" fill="#F47F31" stroke="#F47F31" stroke-width="0.22">IL21 Low</text>
<text x="80.75" y="1776.73" font-size="13.8" text-anchor="middle" fill="#000" stroke="#000" stroke-width="0.22">17</text>
<text x="131" y="1776.73" font-size="13.8" text-anchor="middle" fill="#000" stroke="#000" stroke-width="0.22">6</text>
<text x="181.25" y="1776.73" font-size="13.8" text-anchor="middle" fill="#000" stroke="#000" stroke-width="0.22">4</text>
<text x="231.5" y="1776.73" font-size="13.8" text-anchor="middle" fill="#000" stroke="#000" stroke-width="0.22">3</text>
<text x="281.5" y="1776.73" font-size="13.8" text-anchor="middle" fill="#000" stroke="#000" stroke-width="0.22">2</text>
<text x="331.75" y="1776.73" font-size="13.8" text-anchor="middle" fill="#000" stroke="#000" stroke-width="0.22">2</text>
<text x="382" y="1776.73" font-size="13.8" text-anchor="middle" fill="#000" stroke="#000" stroke-width="0.22">1</text>
<line x1="61.3" y1="1792.4" x2="64.5" y2="1792.4" stroke="#000" stroke-width="1.3"/>
<text x="58.3" y="1796" font-size="12.7" text-anchor="end" fill="#3076B1" stroke="#3076B1" stroke-width="0.22">IL21 High</text>
<text x="80.75" y="1797.2" font-size="13.8" text-anchor="middle" fill="#000" stroke="#000" stroke-width="0.22">20</text>
<text x="131" y="1797.2" font-size="13.8" text-anchor="middle" fill="#000" stroke="#000" stroke-width="0.22">8</text>
<text x="181.25" y="1797.2" font-size="13.8" text-anchor="middle" fill="#000" stroke="#000" stroke-width="0.22">7</text>
<text x="231.5" y="1797.2" font-size="13.8" text-anchor="middle" fill="#000" stroke="#000" stroke-width="0.22">6</text>
<text x="281.5" y="1797.2" font-size="13.8" text-anchor="middle" fill="#000" stroke="#000" stroke-width="0.22">4</text>
<text x="331.75" y="1797.2" font-size="13.8" text-anchor="middle" fill="#000" stroke="#000" stroke-width="0.22">2</text>
<text x="382" y="1797.2" font-size="13.8" text-anchor="middle" fill="#000" stroke="#000" stroke-width="0.22">2</text>
<line x1="80.75" y1="1804.5" x2="80.75" y2="1807.7" stroke="#000" stroke-width="1.3"/>
<text x="80.75" y="1819.8" font-size="12.6" text-anchor="middle" fill="#000" stroke="#000" stroke-width="0.22">0</text>
<line x1="131" y1="1804.5" x2="131" y2="1807.7" stroke="#000" stroke-width="1.3"/>
<text x="131" y="1819.8" font-size="12.6" text-anchor="middle" fill="#000" stroke="#000" stroke-width="0.22">6</text>
<line x1="181.25" y1="1804.5" x2="181.25" y2="1807.7" stroke="#000" stroke-width="1.3"/>
<text x="181.25" y="1819.8" font-size="12.6" text-anchor="middle" fill="#000" stroke="#000" stroke-width="0.22">12</text>
<line x1="231.5" y1="1804.5" x2="231.5" y2="1807.7" stroke="#000" stroke-width="1.3"/>
<text x="231.5" y="1819.8" font-size="12.6" text-anchor="middle" fill="#000" stroke="#000" stroke-width="0.22">18</text>
<line x1="281.5" y1="1804.5" x2="281.5" y2="1807.7" stroke="#000" stroke-width="1.3"/>
<text x="281.5" y="1819.8" font-size="12.6" text-anchor="middle" fill="#000" stroke="#000" stroke-width="0.22">24</text>
<line x1="331.75" y1="1804.5" x2="331.75" y2="1807.7" stroke="#000" stroke-width="1.3"/>
<text x="331.75" y="1819.8" font-size="12.6" text-anchor="middle" fill="#000" stroke="#000" stroke-width="0.22">30</text>
<line x1="382" y1="1804.5" x2="382" y2="1807.7" stroke="#000" stroke-width="1.3"/>
<text x="382" y="1819.8" font-size="12.6" text-anchor="middle" fill="#000" stroke="#000" stroke-width="0.22">36</text>
<text x="248.25" y="1835.7" font-size="14.9" text-anchor="middle" fill="#000" stroke="#000" stroke-width="0.22">Months</text>
<g stroke="#000" stroke-width="1.95" stroke-dasharray="18.6 16.6" fill="none">
<path d="M586 1575H710.75"/>
<path d="M686.5 1690V1575"/>
<path d="M710.25 1690V1575"/>
</g>
<path d="M586 1459.5L597.75 1459.5L597.75 1473L610.75 1473L610.75 1486.5L617.25 1486.5L617.25 1500.25L618.75 1500.25L618.75 1513.75L620.75 1513.75L620.75 1527.5L633 1527.5L633 1541L642.5 1541L642.5 1554.75L670 1554.75L670 1568.25L686.25 1568.25L686.25 1582L691.5 1582L691.5 1595.25L720.75 1595.25L720.75 1608.75L737.5 1608.75L737.5 1622.25L818.75 1622.25L818.75 1635.75L848 1635.75L848 1654L903.75 1654" stroke="#F47F31" stroke-width="1.9" fill="none" stroke-linejoin="miter"/>
<path d="M829 1634.5H836M832.5 1631V1638M892.75 1652.75H899.75M896.25 1649.25V1656.25M896.5 1652.75H903.5M900 1649.25V1656.25" stroke="#F47F31" stroke-width="1.3" fill="none"/>
<path d="M586 1459.5L599.75 1459.5L599.75 1471.25L605.75 1471.25L605.75 1482.75L609.75 1482.75L609.75 1494.25L620 1494.25L620 1505.75L630.75 1505.75L630.75 1517.25L656.25 1517.25L656.25 1528.75L657 1528.75L657 1540.5L678.5 1540.5L678.5 1552L687.25 1552L687.25 1564.25L710.75 1564.25L710.75 1577L760 1577L760 1593L898.75 1593" stroke="#3076B1" stroke-width="1.9" fill="none" stroke-linejoin="miter"/>
<path d="M682 1550.5H689M685.5 1547V1554M722.75 1576H729.75M726.25 1572.5V1579.5M740.75 1576H747.75M744.25 1572.5V1579.5M767.75 1591.75H774.75M771.25 1588.25V1595.25M778.25 1591.75H785.25M781.75 1588.25V1595.25M825.75 1591.75H832.75M829.25 1588.25V1595.25M834 1591.75H841M837.5 1588.25V1595.25M836.5 1591.75H843.5M840 1588.25V1595.25M891.5 1591.75H898.5M895 1588.25V1595.25" stroke="#3076B1" stroke-width="1.3" fill="none"/>
<path d="M569.25 1448.25V1701.75H940.5" stroke="#000" stroke-width="1.7" fill="none"/>
<line x1="566.05" y1="1459.5" x2="569.25" y2="1459.5" stroke="#000" stroke-width="1.3"/>
<text x="563.75" y="1463.9" font-size="12.6" text-anchor="end" fill="#000" stroke="#000" stroke-width="0.22">1.0</text>
<line x1="566.05" y1="1505.6" x2="569.25" y2="1505.6" stroke="#000" stroke-width="1.3"/>
<text x="563.75" y="1510" font-size="12.6" text-anchor="end" fill="#000" stroke="#000" stroke-width="0.22">0.8</text>
<line x1="566.05" y1="1551.7" x2="569.25" y2="1551.7" stroke="#000" stroke-width="1.3"/>
<text x="563.75" y="1556.1" font-size="12.6" text-anchor="end" fill="#000" stroke="#000" stroke-width="0.22">0.6</text>
<line x1="566.05" y1="1597.8" x2="569.25" y2="1597.8" stroke="#000" stroke-width="1.3"/>
<text x="563.75" y="1602.2" font-size="12.6" text-anchor="end" fill="#000" stroke="#000" stroke-width="0.22">0.4</text>
<line x1="566.05" y1="1643.9" x2="569.25" y2="1643.9" stroke="#000" stroke-width="1.3"/>
<text x="563.75" y="1648.3" font-size="12.6" text-anchor="end" fill="#000" stroke="#000" stroke-width="0.22">0.2</text>
<line x1="566.05" y1="1690" x2="569.25" y2="1690" stroke="#000" stroke-width="1.3"/>
<text x="563.75" y="1694.4" font-size="12.6" text-anchor="end" fill="#000" stroke="#000" stroke-width="0.22">0.0</text>
<line x1="586" y1="1701.75" x2="586" y2="1704.95" stroke="#000" stroke-width="1.3"/>
<text x="586" y="1717.35" font-size="12.6" text-anchor="middle" fill="#000" stroke="#000" stroke-width="0.22">0</text>
<line x1="626.5" y1="1701.75" x2="626.5" y2="1704.95" stroke="#000" stroke-width="1.3"/>
<text x="626.5" y="1717.35" font-size="12.6" text-anchor="middle" fill="#000" stroke="#000" stroke-width="0.22">6</text>
<line x1="667.25" y1="1701.75" x2="667.25" y2="1704.95" stroke="#000" stroke-width="1.3"/>
<text x="667.25" y="1717.35" font-size="12.6" text-anchor="middle" fill="#000" stroke="#000" stroke-width="0.22">12</text>
<line x1="707.75" y1="1701.75" x2="707.75" y2="1704.95" stroke="#000" stroke-width="1.3"/>
<text x="707.75" y="1717.35" font-size="12.6" text-anchor="middle" fill="#000" stroke="#000" stroke-width="0.22">18</text>
<line x1="748.25" y1="1701.75" x2="748.25" y2="1704.95" stroke="#000" stroke-width="1.3"/>
<text x="748.25" y="1717.35" font-size="12.6" text-anchor="middle" fill="#000" stroke="#000" stroke-width="0.22">24</text>
<line x1="788.75" y1="1701.75" x2="788.75" y2="1704.95" stroke="#000" stroke-width="1.3"/>
<text x="788.75" y="1717.35" font-size="12.6" text-anchor="middle" fill="#000" stroke="#000" stroke-width="0.22">30</text>
<line x1="829.25" y1="1701.75" x2="829.25" y2="1704.95" stroke="#000" stroke-width="1.3"/>
<text x="829.25" y="1717.35" font-size="12.6" text-anchor="middle" fill="#000" stroke="#000" stroke-width="0.22">36</text>
<line x1="870" y1="1701.75" x2="870" y2="1704.95" stroke="#000" stroke-width="1.3"/>
<text x="870" y="1717.35" font-size="12.6" text-anchor="middle" fill="#000" stroke="#000" stroke-width="0.22">42</text>
<line x1="910.5" y1="1701.75" x2="910.5" y2="1704.95" stroke="#000" stroke-width="1.3"/>
<text x="910.5" y="1717.35" font-size="12.6" text-anchor="middle" fill="#000" stroke="#000" stroke-width="0.22">48</text>
<text x="755" y="1732.55" font-size="14.9" text-anchor="middle" fill="#000" stroke="#000" stroke-width="0.22">Months</text>
<text x="527.5" y="1582.5" font-size="14.9" text-anchor="middle" fill="#000" stroke="#000" stroke-width="0.22" transform="rotate(-90 527.5 1582.5)">Probability of OS</text>
<text x="708.25" y="1510.5" font-size="13.9" text-anchor="start" fill="#000" stroke="#000" stroke-width="0.22">p = 0.29</text>
<line x1="874.5" y1="1452.3" x2="888.75" y2="1452.3" stroke="#F47F31" stroke-width="1.9"/>
<line x1="881.62" y1="1447.5" x2="881.62" y2="1454.6" stroke="#F47F31" stroke-width="1.4"/>
<line x1="878.02" y1="1451.2" x2="885.23" y2="1451.2" stroke="#F47F31" stroke-width="1.2"/>
<text x="897" y="1456.3" font-size="10.55" text-anchor="start" fill="#000" stroke="#000" stroke-width="0.22">IL21 Low</text>
<line x1="874.5" y1="1464.6" x2="888.75" y2="1464.6" stroke="#3076B1" stroke-width="1.9"/>
<line x1="881.62" y1="1459.8" x2="881.62" y2="1466.9" stroke="#3076B1" stroke-width="1.4"/>
<line x1="878.02" y1="1463.5" x2="885.23" y2="1463.5" stroke="#3076B1" stroke-width="1.2"/>
<text x="897" y="1468.6" font-size="10.55" text-anchor="start" fill="#000" stroke="#000" stroke-width="0.22">IL21 High</text>
<text x="568.95" y="1749.5" font-size="16.9" text-anchor="start" fill="#000" stroke="#000" stroke-width="0.3">Number at risk</text>
<path d="M569.25 1760.5V1805H940.5" stroke="#000" stroke-width="1.7" fill="none"/>
<line x1="566.05" y1="1772.43" x2="569.25" y2="1772.43" stroke="#000" stroke-width="1.3"/>
<text x="563.05" y="1776.03" font-size="12.7" text-anchor="end" fill="#F47F31" stroke="#F47F31" stroke-width="0.22">IL21 Low</text>
<text x="586" y="1777.23" font-size="13.8" text-anchor="middle" fill="#000" stroke="#000" stroke-width="0.22">17</text>
<text x="626.5" y="1777.23" font-size="13.8" text-anchor="middle" fill="#000" stroke="#000" stroke-width="0.22">12</text>
<text x="667.25" y="1777.23" font-size="13.8" text-anchor="middle" fill="#000" stroke="#000" stroke-width="0.22">10</text>
<text x="707.75" y="1777.23" font-size="13.8" text-anchor="middle" fill="#000" stroke="#000" stroke-width="0.22">7</text>
<text x="748.25" y="1777.23" font-size="13.8" text-anchor="middle" fill="#000" stroke="#000" stroke-width="0.22">5</text>
<text x="788.75" y="1777.23" font-size="13.8" text-anchor="middle" fill="#000" stroke="#000" stroke-width="0.22">5</text>
<text x="829.25" y="1777.23" font-size="13.8" text-anchor="middle" fill="#000" stroke="#000" stroke-width="0.22">4</text>
<text x="870" y="1777.23" font-size="13.8" text-anchor="middle" fill="#000" stroke="#000" stroke-width="0.22">2</text>
<text x="910.5" y="1777.23" font-size="13.8" text-anchor="middle" fill="#000" stroke="#000" stroke-width="0.22">0</text>
<line x1="566.05" y1="1792.9" x2="569.25" y2="1792.9" stroke="#000" stroke-width="1.3"/>
<text x="563.05" y="1796.5" font-size="12.7" text-anchor="end" fill="#3076B1" stroke="#3076B1" stroke-width="0.22">IL21 High</text>
<text x="586" y="1797.7" font-size="13.8" text-anchor="middle" fill="#000" stroke="#000" stroke-width="0.22">20</text>
<text x="626.5" y="1797.7" font-size="13.8" text-anchor="middle" fill="#000" stroke="#000" stroke-width="0.22">16</text>
<text x="667.25" y="1797.7" font-size="13.8" text-anchor="middle" fill="#000" stroke="#000" stroke-width="0.22">13</text>
<text x="707.75" y="1797.7" font-size="13.8" text-anchor="middle" fill="#000" stroke="#000" stroke-width="0.22">10</text>
<text x="748.25" y="1797.7" font-size="13.8" text-anchor="middle" fill="#000" stroke="#000" stroke-width="0.22">7</text>
<text x="788.75" y="1797.7" font-size="13.8" text-anchor="middle" fill="#000" stroke="#000" stroke-width="0.22">4</text>
<text x="829.25" y="1797.7" font-size="13.8" text-anchor="middle" fill="#000" stroke="#000" stroke-width="0.22">3</text>
<text x="870" y="1797.7" font-size="13.8" text-anchor="middle" fill="#000" stroke="#000" stroke-width="0.22">1</text>
<text x="910.5" y="1797.7" font-size="13.8" text-anchor="middle" fill="#000" stroke="#000" stroke-width="0.22">0</text>
<line x1="586" y1="1805" x2="586" y2="1808.2" stroke="#000" stroke-width="1.3"/>
<text x="586" y="1820.3" font-size="12.6" text-anchor="middle" fill="#000" stroke="#000" stroke-width="0.22">0</text>
<line x1="626.5" y1="1805" x2="626.5" y2="1808.2" stroke="#000" stroke-width="1.3"/>
<text x="626.5" y="1820.3" font-size="12.6" text-anchor="middle" fill="#000" stroke="#000" stroke-width="0.22">6</text>
<line x1="667.25" y1="1805" x2="667.25" y2="1808.2" stroke="#000" stroke-width="1.3"/>
<text x="667.25" y="1820.3" font-size="12.6" text-anchor="middle" fill="#000" stroke="#000" stroke-width="0.22">12</text>
<line x1="707.75" y1="1805" x2="707.75" y2="1808.2" stroke="#000" stroke-width="1.3"/>
<text x="707.75" y="1820.3" font-size="12.6" text-anchor="middle" fill="#000" stroke="#000" stroke-width="0.22">18</text>
<line x1="748.25" y1="1805" x2="748.25" y2="1808.2" stroke="#000" stroke-width="1.3"/>
<text x="748.25" y="1820.3" font-size="12.6" text-anchor="middle" fill="#000" stroke="#000" stroke-width="0.22">24</text>
<line x1="788.75" y1="1805" x2="788.75" y2="1808.2" stroke="#000" stroke-width="1.3"/>
<text x="788.75" y="1820.3" font-size="12.6" text-anchor="middle" fill="#000" stroke="#000" stroke-width="0.22">30</text>
<line x1="829.25" y1="1805" x2="829.25" y2="1808.2" stroke="#000" stroke-width="1.3"/>
<text x="829.25" y="1820.3" font-size="12.6" text-anchor="middle" fill="#000" stroke="#000" stroke-width="0.22">36</text>
<line x1="870" y1="1805" x2="870" y2="1808.2" stroke="#000" stroke-width="1.3"/>
<text x="870" y="1820.3" font-size="12.6" text-anchor="middle" fill="#000" stroke="#000" stroke-width="0.22">42</text>
<line x1="910.5" y1="1805" x2="910.5" y2="1808.2" stroke="#000" stroke-width="1.3"/>
<text x="910.5" y="1820.3" font-size="12.6" text-anchor="middle" fill="#000" stroke="#000" stroke-width="0.22">48</text>
<text x="755" y="1836.2" font-size="14.9" text-anchor="middle" fill="#000" stroke="#000" stroke-width="0.22">Months</text>
<g stroke="#000" stroke-width="1.95" stroke-dasharray="18.6 16.6" fill="none">
<path d="M1112.25 1574.75H1263"/>
<path d="M1139 1689.5V1574.75"/>
<path d="M1263 1689.5V1574.75"/>
</g>
<path d="M1112.25 1459.5L1119.25 1459.5L1119.25 1471.75L1123.75 1471.75L1123.75 1483.75L1125.75 1483.75L1125.75 1495.75L1127 1495.75L1127 1508L1130 1508L1130 1520L1134 1520L1134 1532.25L1135 1532.25L1135 1544.25L1136.25 1544.25L1136.25 1556.5L1138.5 1556.5L1138.5 1568.5L1139.25 1568.5L1139.25 1580.5L1141 1580.5L1141 1592.5L1147.5 1592.5L1147.5 1605L1159.5 1605L1159.5 1621.5L1161.5 1621.5L1161.5 1638.75L1198.25 1638.75L1198.25 1655.75L1246 1655.75L1246 1673L1430 1673" stroke="#F47F31" stroke-width="1.9" fill="none" stroke-linejoin="miter"/>
<path d="M1150.25 1603.75H1157.25M1153.75 1600.25V1607.25M1152.25 1603.75H1159.25M1155.75 1600.25V1607.25M1422.75 1671.25H1429.75M1426.25 1667.75V1674.75" stroke="#F47F31" stroke-width="1.3" fill="none"/>
<path d="M1112.25 1459.5L1121.75 1459.5L1121.75 1472.25L1133.25 1472.25L1133.25 1485.75L1136.25 1485.75L1136.25 1499.5L1138 1499.5L1138 1513.25L1142.25 1513.25L1142.25 1527L1190.25 1527L1190.25 1541.5L1191 1541.5L1191 1556.25L1256.5 1556.25L1256.5 1571L1263 1571L1263 1585.75L1289.75 1585.75L1289.75 1600.5L1312.75 1600.5L1312.75 1615.25L1323 1615.25L1323 1630.25L1338 1630.25L1338 1645.25L1383.5 1645.25L1383.5 1660.25L1415 1660.25L1415 1673.75L1420 1673.75" stroke="#3076B1" stroke-width="1.9" fill="none" stroke-linejoin="miter"/>
<path d="M1127.25 1471.25H1134.25M1130.75 1467.75V1474.75M1148.25 1525.75H1155.25M1151.75 1522.25V1529.25M1412.75 1673.25H1419.75M1416.25 1669.75V1676.75" stroke="#3076B1" stroke-width="1.3" fill="none"/>
<path d="M1095.75 1448.25V1701.25H1463.75" stroke="#000" stroke-width="1.7" fill="none"/>
<line x1="1092.55" y1="1459.5" x2="1095.75" y2="1459.5" stroke="#000" stroke-width="1.3"/>
<text x="1090.25" y="1463.9" font-size="12.6" text-anchor="end" fill="#000" stroke="#000" stroke-width="0.22">1.0</text>
<line x1="1092.55" y1="1505.5" x2="1095.75" y2="1505.5" stroke="#000" stroke-width="1.3"/>
<text x="1090.25" y="1509.9" font-size="12.6" text-anchor="end" fill="#000" stroke="#000" stroke-width="0.22">0.8</text>
<line x1="1092.55" y1="1551.5" x2="1095.75" y2="1551.5" stroke="#000" stroke-width="1.3"/>
<text x="1090.25" y="1555.9" font-size="12.6" text-anchor="end" fill="#000" stroke="#000" stroke-width="0.22">0.6</text>
<line x1="1092.55" y1="1597.5" x2="1095.75" y2="1597.5" stroke="#000" stroke-width="1.3"/>
<text x="1090.25" y="1601.9" font-size="12.6" text-anchor="end" fill="#000" stroke="#000" stroke-width="0.22">0.4</text>
<line x1="1092.55" y1="1643.5" x2="1095.75" y2="1643.5" stroke="#000" stroke-width="1.3"/>
<text x="1090.25" y="1647.9" font-size="12.6" text-anchor="end" fill="#000" stroke="#000" stroke-width="0.22">0.2</text>
<line x1="1092.55" y1="1689.5" x2="1095.75" y2="1689.5" stroke="#000" stroke-width="1.3"/>
<text x="1090.25" y="1693.9" font-size="12.6" text-anchor="end" fill="#000" stroke="#000" stroke-width="0.22">0.0</text>
<line x1="1112.25" y1="1701.25" x2="1112.25" y2="1704.45" stroke="#000" stroke-width="1.3"/>
<text x="1112.25" y="1716.85" font-size="12.6" text-anchor="middle" fill="#000" stroke="#000" stroke-width="0.22">0</text>
<line x1="1162.25" y1="1701.25" x2="1162.25" y2="1704.45" stroke="#000" stroke-width="1.3"/>
<text x="1162.25" y="1716.85" font-size="12.6" text-anchor="middle" fill="#000" stroke="#000" stroke-width="0.22">6</text>
<line x1="1212.75" y1="1701.25" x2="1212.75" y2="1704.45" stroke="#000" stroke-width="1.3"/>
<text x="1212.75" y="1716.85" font-size="12.6" text-anchor="middle" fill="#000" stroke="#000" stroke-width="0.22">12</text>
<line x1="1263" y1="1701.25" x2="1263" y2="1704.45" stroke="#000" stroke-width="1.3"/>
<text x="1263" y="1716.85" font-size="12.6" text-anchor="middle" fill="#000" stroke="#000" stroke-width="0.22">18</text>
<line x1="1313.25" y1="1701.25" x2="1313.25" y2="1704.45" stroke="#000" stroke-width="1.3"/>
<text x="1313.25" y="1716.85" font-size="12.6" text-anchor="middle" fill="#000" stroke="#000" stroke-width="0.22">24</text>
<line x1="1363.5" y1="1701.25" x2="1363.5" y2="1704.45" stroke="#000" stroke-width="1.3"/>
<text x="1363.5" y="1716.85" font-size="12.6" text-anchor="middle" fill="#000" stroke="#000" stroke-width="0.22">30</text>
<line x1="1413.75" y1="1701.25" x2="1413.75" y2="1704.45" stroke="#000" stroke-width="1.3"/>
<text x="1413.75" y="1716.85" font-size="12.6" text-anchor="middle" fill="#000" stroke="#000" stroke-width="0.22">36</text>
<text x="1280" y="1732.45" font-size="14.9" text-anchor="middle" fill="#000" stroke="#000" stroke-width="0.22">Months</text>
<text x="1058" y="1573.75" font-size="14.9" text-anchor="middle" fill="#000" stroke="#000" stroke-width="0.22" transform="rotate(-90 1058 1573.75)">Probability of PFS</text>
<text x="1263.75" y="1510.5" font-size="13.9" text-anchor="start" fill="#000" stroke="#000" stroke-width="0.22">p = 0.037</text>
<line x1="1399.5" y1="1454.55" x2="1413.75" y2="1454.55" stroke="#F47F31" stroke-width="1.9"/>
<line x1="1406.62" y1="1449.75" x2="1406.62" y2="1456.85" stroke="#F47F31" stroke-width="1.4"/>
<line x1="1403.03" y1="1453.45" x2="1410.22" y2="1453.45" stroke="#F47F31" stroke-width="1.2"/>
<text x="1421.75" y="1458.55" font-size="10.55" text-anchor="start" fill="#000" stroke="#000" stroke-width="0.22">IL21 Low</text>
<line x1="1399.5" y1="1467.1" x2="1413.75" y2="1467.1" stroke="#3076B1" stroke-width="1.9"/>
<line x1="1406.62" y1="1462.3" x2="1406.62" y2="1469.4" stroke="#3076B1" stroke-width="1.4"/>
<line x1="1403.03" y1="1466" x2="1410.22" y2="1466" stroke="#3076B1" stroke-width="1.2"/>
<text x="1421.75" y="1471.1" font-size="10.55" text-anchor="start" fill="#000" stroke="#000" stroke-width="0.22">IL21 High</text>
<text x="1095.45" y="1749.5" font-size="16.9" text-anchor="start" fill="#000" stroke="#000" stroke-width="0.3">Number at risk</text>
<path d="M1095.75 1760V1804.5H1463.75" stroke="#000" stroke-width="1.7" fill="none"/>
<line x1="1092.55" y1="1771.93" x2="1095.75" y2="1771.93" stroke="#000" stroke-width="1.3"/>
<text x="1089.55" y="1775.53" font-size="12.7" text-anchor="end" fill="#F47F31" stroke="#F47F31" stroke-width="0.22">IL21 Low</text>
<text x="1112.25" y="1776.73" font-size="13.8" text-anchor="middle" fill="#000" stroke="#000" stroke-width="0.22">19</text>
<text x="1162.25" y="1776.73" font-size="13.8" text-anchor="middle" fill="#000" stroke="#000" stroke-width="0.22">3</text>
<text x="1212.75" y="1776.73" font-size="13.8" text-anchor="middle" fill="#000" stroke="#000" stroke-width="0.22">2</text>
<text x="1263" y="1776.73" font-size="13.8" text-anchor="middle" fill="#000" stroke="#000" stroke-width="0.22">1</text>
<text x="1313.25" y="1776.73" font-size="13.8" text-anchor="middle" fill="#000" stroke="#000" stroke-width="0.22">1</text>
<text x="1363.5" y="1776.73" font-size="13.8" text-anchor="middle" fill="#000" stroke="#000" stroke-width="0.22">1</text>
<text x="1413.75" y="1776.73" font-size="13.8" text-anchor="middle" fill="#000" stroke="#000" stroke-width="0.22">1</text>
<line x1="1092.55" y1="1792.4" x2="1095.75" y2="1792.4" stroke="#000" stroke-width="1.3"/>
<text x="1089.55" y="1796" font-size="12.7" text-anchor="end" fill="#3076B1" stroke="#3076B1" stroke-width="0.22">IL21 High</text>
<text x="1112.25" y="1797.2" font-size="13.8" text-anchor="middle" fill="#000" stroke="#000" stroke-width="0.22">18</text>
<text x="1162.25" y="1797.2" font-size="13.8" text-anchor="middle" fill="#000" stroke="#000" stroke-width="0.22">11</text>
<text x="1212.75" y="1797.2" font-size="13.8" text-anchor="middle" fill="#000" stroke="#000" stroke-width="0.22">9</text>
<text x="1263" y="1797.2" font-size="13.8" text-anchor="middle" fill="#000" stroke="#000" stroke-width="0.22">8</text>
<text x="1313.25" y="1797.2" font-size="13.8" text-anchor="middle" fill="#000" stroke="#000" stroke-width="0.22">5</text>
<text x="1363.5" y="1797.2" font-size="13.8" text-anchor="middle" fill="#000" stroke="#000" stroke-width="0.22">3</text>
<text x="1413.75" y="1797.2" font-size="13.8" text-anchor="middle" fill="#000" stroke="#000" stroke-width="0.22">2</text>
<line x1="1112.25" y1="1804.5" x2="1112.25" y2="1807.7" stroke="#000" stroke-width="1.3"/>
<text x="1112.25" y="1819.8" font-size="12.6" text-anchor="middle" fill="#000" stroke="#000" stroke-width="0.22">0</text>
<line x1="1162.25" y1="1804.5" x2="1162.25" y2="1807.7" stroke="#000" stroke-width="1.3"/>
<text x="1162.25" y="1819.8" font-size="12.6" text-anchor="middle" fill="#000" stroke="#000" stroke-width="0.22">6</text>
<line x1="1212.75" y1="1804.5" x2="1212.75" y2="1807.7" stroke="#000" stroke-width="1.3"/>
<text x="1212.75" y="1819.8" font-size="12.6" text-anchor="middle" fill="#000" stroke="#000" stroke-width="0.22">12</text>
<line x1="1263" y1="1804.5" x2="1263" y2="1807.7" stroke="#000" stroke-width="1.3"/>
<text x="1263" y="1819.8" font-size="12.6" text-anchor="middle" fill="#000" stroke="#000" stroke-width="0.22">18</text>
<line x1="1313.25" y1="1804.5" x2="1313.25" y2="1807.7" stroke="#000" stroke-width="1.3"/>
<text x="1313.25" y="1819.8" font-size="12.6" text-anchor="middle" fill="#000" stroke="#000" stroke-width="0.22">24</text>
<line x1="1363.5" y1="1804.5" x2="1363.5" y2="1807.7" stroke="#000" stroke-width="1.3"/>
<text x="1363.5" y="1819.8" font-size="12.6" text-anchor="middle" fill="#000" stroke="#000" stroke-width="0.22">30</text>
<line x1="1413.75" y1="1804.5" x2="1413.75" y2="1807.7" stroke="#000" stroke-width="1.3"/>
<text x="1413.75" y="1819.8" font-size="12.6" text-anchor="middle" fill="#000" stroke="#000" stroke-width="0.22">36</text>
<text x="1280" y="1835.7" font-size="14.9" text-anchor="middle" fill="#000" stroke="#000" stroke-width="0.22">Months</text>
<g stroke="#000" stroke-width="1.95" stroke-dasharray="18.6 16.6" fill="none">
<path d="M1627.52 1574.56H1889.12"/>
<path d="M1684.16 1690.5V1574.56"/>
<path d="M1888.88 1690.5V1574.56"/>
</g>
<path d="M1627.52 1458.88L1639.04 1458.88L1639.04 1470.88L1640.72 1470.88L1640.72 1483.12L1651.52 1483.12L1651.52 1495.36L1652 1495.36L1652 1507.6L1660.64 1507.6L1660.64 1519.6L1661.6 1519.6L1661.6 1531.84L1662.56 1531.84L1662.56 1544.08L1671.92 1544.08L1671.92 1556.32L1674.32 1556.32L1674.32 1568.32L1684.16 1568.32L1684.16 1580.56L1698.32 1580.56L1698.32 1592.8L1719.68 1592.8L1719.68 1605.04L1728.8 1605.04L1728.8 1619.2L1732.64 1619.2L1732.64 1633.36L1778.72 1633.36L1778.72 1647.52L1801.28 1647.52L1801.28 1661.92L1940.48 1661.92" stroke="#F47F31" stroke-width="1.9" fill="none" stroke-linejoin="miter"/>
<path d="M1723.38 1603.84H1730.38M1726.88 1600.34V1607.34M1877.22 1660.72H1884.22M1880.72 1657.22V1664.22M1933.62 1660.72H1940.62M1937.12 1657.22V1664.22" stroke="#F47F31" stroke-width="1.3" fill="none"/>
<path d="M1627.52 1458.88L1647.2 1458.88L1647.2 1471.6L1658.72 1471.6L1658.72 1484.32L1697.84 1484.32L1697.84 1497.28L1711.28 1497.28L1711.28 1510.24L1728.08 1510.24L1728.08 1523.2L1751.84 1523.2L1751.84 1536.16L1761.92 1536.16L1761.92 1549.12L1859.6 1549.12L1859.6 1569.28L1889.12 1569.28L1889.12 1609.6L1944.8 1609.6" stroke="#3076B1" stroke-width="1.9" fill="none" stroke-linejoin="miter"/>
<path d="M1764.42 1547.92H1771.42M1767.92 1544.42V1551.42M1781.46 1547.92H1788.46M1784.96 1544.42V1551.42M1808.58 1547.92H1815.58M1812.08 1544.42V1551.42M1819.38 1547.92H1826.38M1822.88 1544.42V1551.42M1866.9 1567.84H1873.9M1870.4 1564.34V1571.34M1869.3 1567.84H1876.3M1872.8 1564.34V1571.34M1874.82 1567.84H1881.82M1878.32 1564.34V1571.34M1932.9 1608.4H1939.9M1936.4 1604.9V1611.9M1937.7 1608.4H1944.7M1941.2 1604.9V1611.9" stroke="#3076B1" stroke-width="1.3" fill="none"/>
<path d="M1611 1447.6V1701.5H1982" stroke="#000" stroke-width="1.7" fill="none"/>
<line x1="1607.8" y1="1458.9" x2="1611" y2="1458.9" stroke="#000" stroke-width="1.3"/>
<text x="1605.5" y="1463.3" font-size="12.6" text-anchor="end" fill="#000" stroke="#000" stroke-width="0.22">1.0</text>
<line x1="1607.8" y1="1505.22" x2="1611" y2="1505.22" stroke="#000" stroke-width="1.3"/>
<text x="1605.5" y="1509.62" font-size="12.6" text-anchor="end" fill="#000" stroke="#000" stroke-width="0.22">0.8</text>
<line x1="1607.8" y1="1551.54" x2="1611" y2="1551.54" stroke="#000" stroke-width="1.3"/>
<text x="1605.5" y="1555.94" font-size="12.6" text-anchor="end" fill="#000" stroke="#000" stroke-width="0.22">0.6</text>
<line x1="1607.8" y1="1597.86" x2="1611" y2="1597.86" stroke="#000" stroke-width="1.3"/>
<text x="1605.5" y="1602.26" font-size="12.6" text-anchor="end" fill="#000" stroke="#000" stroke-width="0.22">0.4</text>
<line x1="1607.8" y1="1644.18" x2="1611" y2="1644.18" stroke="#000" stroke-width="1.3"/>
<text x="1605.5" y="1648.58" font-size="12.6" text-anchor="end" fill="#000" stroke="#000" stroke-width="0.22">0.2</text>
<line x1="1607.8" y1="1690.5" x2="1611" y2="1690.5" stroke="#000" stroke-width="1.3"/>
<text x="1605.5" y="1694.9" font-size="12.6" text-anchor="end" fill="#000" stroke="#000" stroke-width="0.22">0.0</text>
<line x1="1627.5" y1="1701.5" x2="1627.5" y2="1704.7" stroke="#000" stroke-width="1.3"/>
<text x="1627.5" y="1717.1" font-size="12.6" text-anchor="middle" fill="#000" stroke="#000" stroke-width="0.22">0</text>
<line x1="1667.8" y1="1701.5" x2="1667.8" y2="1704.7" stroke="#000" stroke-width="1.3"/>
<text x="1667.8" y="1717.1" font-size="12.6" text-anchor="middle" fill="#000" stroke="#000" stroke-width="0.22">6</text>
<line x1="1708.4" y1="1701.5" x2="1708.4" y2="1704.7" stroke="#000" stroke-width="1.3"/>
<text x="1708.4" y="1717.1" font-size="12.6" text-anchor="middle" fill="#000" stroke="#000" stroke-width="0.22">12</text>
<line x1="1749" y1="1701.5" x2="1749" y2="1704.7" stroke="#000" stroke-width="1.3"/>
<text x="1749" y="1717.1" font-size="12.6" text-anchor="middle" fill="#000" stroke="#000" stroke-width="0.22">18</text>
<line x1="1789.3" y1="1701.5" x2="1789.3" y2="1704.7" stroke="#000" stroke-width="1.3"/>
<text x="1789.3" y="1717.1" font-size="12.6" text-anchor="middle" fill="#000" stroke="#000" stroke-width="0.22">24</text>
<line x1="1829.8" y1="1701.5" x2="1829.8" y2="1704.7" stroke="#000" stroke-width="1.3"/>
<text x="1829.8" y="1717.1" font-size="12.6" text-anchor="middle" fill="#000" stroke="#000" stroke-width="0.22">30</text>
<line x1="1870.4" y1="1701.5" x2="1870.4" y2="1704.7" stroke="#000" stroke-width="1.3"/>
<text x="1870.4" y="1717.1" font-size="12.6" text-anchor="middle" fill="#000" stroke="#000" stroke-width="0.22">36</text>
<line x1="1910.7" y1="1701.5" x2="1910.7" y2="1704.7" stroke="#000" stroke-width="1.3"/>
<text x="1910.7" y="1717.1" font-size="12.6" text-anchor="middle" fill="#000" stroke="#000" stroke-width="0.22">42</text>
<line x1="1951.3" y1="1701.5" x2="1951.3" y2="1704.7" stroke="#000" stroke-width="1.3"/>
<text x="1951.3" y="1717.1" font-size="12.6" text-anchor="middle" fill="#000" stroke="#000" stroke-width="0.22">48</text>
<text x="1796" y="1732.5" font-size="14.9" text-anchor="middle" fill="#000" stroke="#000" stroke-width="0.22">Months</text>
<text x="1572.3" y="1572.4" font-size="14.9" text-anchor="middle" fill="#000" stroke="#000" stroke-width="0.22" transform="rotate(-90 1572.3 1572.4)">Probability of OS</text>
<text x="1749.2" y="1510.5" font-size="13.9" text-anchor="start" fill="#000" stroke="#000" stroke-width="0.22">p = 0.0055</text>
<line x1="1914.3" y1="1451" x2="1928" y2="1451" stroke="#F47F31" stroke-width="1.9"/>
<line x1="1921.15" y1="1446.2" x2="1921.15" y2="1453.3" stroke="#F47F31" stroke-width="1.4"/>
<line x1="1917.55" y1="1449.9" x2="1924.75" y2="1449.9" stroke="#F47F31" stroke-width="1.2"/>
<text x="1936.4" y="1455" font-size="10.55" text-anchor="start" fill="#000" stroke="#000" stroke-width="0.22">IL21 Low</text>
<line x1="1914.3" y1="1462.8" x2="1928" y2="1462.8" stroke="#3076B1" stroke-width="1.9"/>
<line x1="1921.15" y1="1458" x2="1921.15" y2="1465.1" stroke="#3076B1" stroke-width="1.4"/>
<line x1="1917.55" y1="1461.7" x2="1924.75" y2="1461.7" stroke="#3076B1" stroke-width="1.2"/>
<text x="1936.4" y="1466.8" font-size="10.55" text-anchor="start" fill="#000" stroke="#000" stroke-width="0.22">IL21 High</text>
<text x="1610.7" y="1746.4" font-size="16.9" text-anchor="start" fill="#000" stroke="#000" stroke-width="0.3">Number at risk</text>
<path d="M1611 1757.9V1802.1H1982" stroke="#000" stroke-width="1.7" fill="none"/>
<line x1="1607.8" y1="1769.75" x2="1611" y2="1769.75" stroke="#000" stroke-width="1.3"/>
<text x="1604.8" y="1773.35" font-size="12.7" text-anchor="end" fill="#F47F31" stroke="#F47F31" stroke-width="0.22">IL21 Low</text>
<text x="1627.5" y="1774.55" font-size="13.8" text-anchor="middle" fill="#000" stroke="#000" stroke-width="0.22">19</text>
<text x="1667.8" y="1774.55" font-size="13.8" text-anchor="middle" fill="#000" stroke="#000" stroke-width="0.22">12</text>
<text x="1708.4" y="1774.55" font-size="13.8" text-anchor="middle" fill="#000" stroke="#000" stroke-width="0.22">8</text>
<text x="1749" y="1774.55" font-size="13.8" text-anchor="middle" fill="#000" stroke="#000" stroke-width="0.22">4</text>
<text x="1789.3" y="1774.55" font-size="13.8" text-anchor="middle" fill="#000" stroke="#000" stroke-width="0.22">3</text>
<text x="1829.8" y="1774.55" font-size="13.8" text-anchor="middle" fill="#000" stroke="#000" stroke-width="0.22">2</text>
<text x="1870.4" y="1774.55" font-size="13.8" text-anchor="middle" fill="#000" stroke="#000" stroke-width="0.22">2</text>
<text x="1910.7" y="1774.55" font-size="13.8" text-anchor="middle" fill="#000" stroke="#000" stroke-width="0.22">1</text>
<text x="1951.3" y="1774.55" font-size="13.8" text-anchor="middle" fill="#000" stroke="#000" stroke-width="0.22">0</text>
<line x1="1607.8" y1="1790.08" x2="1611" y2="1790.08" stroke="#000" stroke-width="1.3"/>
<text x="1604.8" y="1793.68" font-size="12.7" text-anchor="end" fill="#3076B1" stroke="#3076B1" stroke-width="0.22">IL21 High</text>
<text x="1627.5" y="1794.88" font-size="13.8" text-anchor="middle" fill="#000" stroke="#000" stroke-width="0.22">18</text>
<text x="1667.8" y="1794.88" font-size="13.8" text-anchor="middle" fill="#000" stroke="#000" stroke-width="0.22">16</text>
<text x="1708.4" y="1794.88" font-size="13.8" text-anchor="middle" fill="#000" stroke="#000" stroke-width="0.22">15</text>
<text x="1749" y="1794.88" font-size="13.8" text-anchor="middle" fill="#000" stroke="#000" stroke-width="0.22">13</text>
<text x="1789.3" y="1794.88" font-size="13.8" text-anchor="middle" fill="#000" stroke="#000" stroke-width="0.22">9</text>
<text x="1829.8" y="1794.88" font-size="13.8" text-anchor="middle" fill="#000" stroke="#000" stroke-width="0.22">7</text>
<text x="1870.4" y="1794.88" font-size="13.8" text-anchor="middle" fill="#000" stroke="#000" stroke-width="0.22">5</text>
<text x="1910.7" y="1794.88" font-size="13.8" text-anchor="middle" fill="#000" stroke="#000" stroke-width="0.22">2</text>
<text x="1951.3" y="1794.88" font-size="13.8" text-anchor="middle" fill="#000" stroke="#000" stroke-width="0.22">0</text>
<line x1="1627.5" y1="1802.1" x2="1627.5" y2="1805.3" stroke="#000" stroke-width="1.3"/>
<text x="1627.5" y="1817.4" font-size="12.6" text-anchor="middle" fill="#000" stroke="#000" stroke-width="0.22">0</text>
<line x1="1667.8" y1="1802.1" x2="1667.8" y2="1805.3" stroke="#000" stroke-width="1.3"/>
<text x="1667.8" y="1817.4" font-size="12.6" text-anchor="middle" fill="#000" stroke="#000" stroke-width="0.22">6</text>
<line x1="1708.4" y1="1802.1" x2="1708.4" y2="1805.3" stroke="#000" stroke-width="1.3"/>
<text x="1708.4" y="1817.4" font-size="12.6" text-anchor="middle" fill="#000" stroke="#000" stroke-width="0.22">12</text>
<line x1="1749" y1="1802.1" x2="1749" y2="1805.3" stroke="#000" stroke-width="1.3"/>
<text x="1749" y="1817.4" font-size="12.6" text-anchor="middle" fill="#000" stroke="#000" stroke-width="0.22">18</text>
<line x1="1789.3" y1="1802.1" x2="1789.3" y2="1805.3" stroke="#000" stroke-width="1.3"/>
<text x="1789.3" y="1817.4" font-size="12.6" text-anchor="middle" fill="#000" stroke="#000" stroke-width="0.22">24</text>
<line x1="1829.8" y1="1802.1" x2="1829.8" y2="1805.3" stroke="#000" stroke-width="1.3"/>
<text x="1829.8" y="1817.4" font-size="12.6" text-anchor="middle" fill="#000" stroke="#000" stroke-width="0.22">30</text>
<line x1="1870.4" y1="1802.1" x2="1870.4" y2="1805.3" stroke="#000" stroke-width="1.3"/>
<text x="1870.4" y="1817.4" font-size="12.6" text-anchor="middle" fill="#000" stroke="#000" stroke-width="0.22">36</text>
<line x1="1910.7" y1="1802.1" x2="1910.7" y2="1805.3" stroke="#000" stroke-width="1.3"/>
<text x="1910.7" y="1817.4" font-size="12.6" text-anchor="middle" fill="#000" stroke="#000" stroke-width="0.22">42</text>
<line x1="1951.3" y1="1802.1" x2="1951.3" y2="1805.3" stroke="#000" stroke-width="1.3"/>
<text x="1951.3" y="1817.4" font-size="12.6" text-anchor="middle" fill="#000" stroke="#000" stroke-width="0.22">48</text>
<text x="1796" y="1833.3" font-size="14.9" text-anchor="middle" fill="#000" stroke="#000" stroke-width="0.22">Months</text>
<text x="-0.4" y="31.2" font-size="45.3" text-anchor="start" fill="#231F20" stroke="#231F20" stroke-width="0">A</text>
<text x="-0.6" y="969.5" font-size="45" text-anchor="start" fill="#231F20" stroke="#231F20" stroke-width="0">B</text>
<text x="1033.7" y="970.3" font-size="45.5" text-anchor="start" fill="#231F20" stroke="#231F20" stroke-width="0">C</text>
</svg></body></html>
